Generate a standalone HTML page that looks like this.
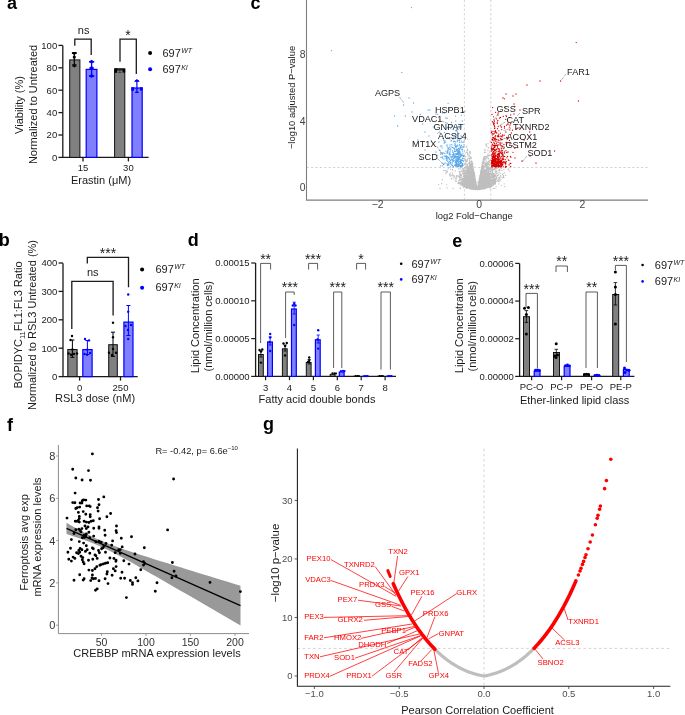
<!DOCTYPE html>
<html><head><meta charset="utf-8"><style>
html,body{margin:0;padding:0;background:#fff;overflow:hidden}
svg{display:block;will-change:transform}
text{font-family:"Liberation Sans", sans-serif}
</style></head><body>
<svg width="685" height="715" viewBox="0 0 685 715">
<text x="7" y="8.8" font-size="18" text-anchor="start" fill="#000" font-weight="bold">a</text>
<text x="-1.2" y="246" font-size="18" text-anchor="start" fill="#000" font-weight="bold">b</text>
<text x="250.6" y="9" font-size="18" text-anchor="start" fill="#000" font-weight="bold">c</text>
<text x="187.8" y="246.3" font-size="18" text-anchor="start" fill="#000" font-weight="bold">d</text>
<text x="452.2" y="246.7" font-size="18" text-anchor="start" fill="#000" font-weight="bold">e</text>
<text x="7" y="431" font-size="18" text-anchor="start" fill="#000" font-weight="bold">f</text>
<text x="263.1" y="430" font-size="18" text-anchor="start" fill="#000" font-weight="bold">g</text>
<path d="M62.8,45.4V157.4H148.6" stroke="#1a1a1a" stroke-width="1.3" fill="none" />
<line x1="58.4" y1="157.4" x2="62.8" y2="157.4" stroke="#1a1a1a" stroke-width="1.3" />
<text x="57.2" y="160.8" font-size="9.5" text-anchor="end" fill="#1a1a1a">0</text>
<line x1="58.4" y1="135" x2="62.8" y2="135" stroke="#1a1a1a" stroke-width="1.3" />
<text x="57.2" y="138.4" font-size="9.5" text-anchor="end" fill="#1a1a1a">20</text>
<line x1="58.4" y1="112.6" x2="62.8" y2="112.6" stroke="#1a1a1a" stroke-width="1.3" />
<text x="57.2" y="116" font-size="9.5" text-anchor="end" fill="#1a1a1a">40</text>
<line x1="58.4" y1="90.2" x2="62.8" y2="90.2" stroke="#1a1a1a" stroke-width="1.3" />
<text x="57.2" y="93.6" font-size="9.5" text-anchor="end" fill="#1a1a1a">60</text>
<line x1="58.4" y1="67.8" x2="62.8" y2="67.8" stroke="#1a1a1a" stroke-width="1.3" />
<text x="57.2" y="71.2" font-size="9.5" text-anchor="end" fill="#1a1a1a">80</text>
<line x1="58.4" y1="45.4" x2="62.8" y2="45.4" stroke="#1a1a1a" stroke-width="1.3" />
<text x="57.2" y="48.8" font-size="9.5" text-anchor="end" fill="#1a1a1a">100</text>
<line x1="83" y1="157.4" x2="83" y2="161.4" stroke="#1a1a1a" stroke-width="1.3" />
<text x="83" y="171.3" font-size="9.5" text-anchor="middle" fill="#1a1a1a">15</text>
<line x1="128.4" y1="157.4" x2="128.4" y2="161.4" stroke="#1a1a1a" stroke-width="1.3" />
<text x="128.4" y="171.3" font-size="9.5" text-anchor="middle" fill="#1a1a1a">30</text>
<text x="101" y="183.6" font-size="11" text-anchor="middle" fill="#1a1a1a">Erastin (μM)</text>
<text x="22.7" y="105" font-size="11" text-anchor="middle" fill="#1a1a1a" transform="rotate(-90 22.7 105)">Viability (%)</text>
<text x="37.4" y="104.5" font-size="11" text-anchor="middle" fill="#1a1a1a" transform="rotate(-90 37.4 104.5)">Normalized to Untreated</text>
<rect x="69.7" y="59.9" width="10.2" height="97.5" fill="#808080" stroke="#111" stroke-width="1"/>
<rect x="86.2" y="69.4" width="10.7" height="88" fill="#8080ff" stroke="#0000ff" stroke-width="1.2"/>
<rect x="114.6" y="69.9" width="10.2" height="87.5" fill="#808080" stroke="#111" stroke-width="1"/>
<rect x="132" y="88" width="10.2" height="69.4" fill="#8080ff" stroke="#0000ff" stroke-width="1.2"/>
<path d="M74.3,53.5V66M71.9,53.5H76.7M71.9,66H76.7" stroke="#000" stroke-width="1.2" fill="none" />
<path d="M71.6,52H77.1L74.35,55.6Z" fill="#000"/>
<circle cx="74.3" cy="57.1" r="1.6" fill="#000"/>
<path d="M71.9,64.2H76.8L74.35,67.7Z" fill="#000"/>
<path d="M91.6,61.8V76M89,61.8H94.2M89,76H94.2" stroke="#0000ff" stroke-width="1.3" fill="none" />
<path d="M91.6,59.8L94.4,61.8L91.6,63.8L88.8,61.8Z" fill="#0000ff"/>
<path d="M91.6,65.9L94.4,67.9L91.6,69.9L88.8,67.9Z" fill="#0000ff"/>
<path d="M91.6,74L94.4,76L91.6,78L88.8,76Z" fill="#0000ff"/>
<rect x="114.4" y="68.2" width="2.8" height="4.6" fill="#000" stroke="none" stroke-width="0"/>
<rect x="122.6" y="69" width="2.6" height="3.6" fill="#000" stroke="none" stroke-width="0"/>
<rect x="114.4" y="68.2" width="10.8" height="1.6" fill="#111" stroke="none" stroke-width="0"/>
<path d="M119.8,70.2V72.6M118.2,70.2H121.4M118.2,72.6H121.4" stroke="#333" stroke-width="0.8" fill="none" />
<path d="M136.9,80.6V92.3M135.1,80.6H138.7M135.1,92.3H138.7" stroke="#0000ff" stroke-width="1.2" fill="none" />
<path d="M133.9,81.8H139.9L136.9,78.9Z" fill="#0000ff"/>
<rect x="131.3" y="87.2" width="2.7" height="3.6" fill="#0000ff" stroke="none" stroke-width="0"/>
<rect x="140" y="87.2" width="2.6" height="3.4" fill="#0000ff" stroke="none" stroke-width="0"/>
<path d="M74.8,45.8V39.2H91.2V55" stroke="#1a1a1a" stroke-width="1.3" fill="none" />
<text x="83.6" y="34" font-size="11" text-anchor="middle" fill="#1a1a1a">ns</text>
<path d="M120,61.8V39.2H136.3V73.9" stroke="#1a1a1a" stroke-width="1.3" fill="none" />
<text x="128" y="39.7" font-size="14" text-anchor="middle" fill="#1a1a1a">*</text>
<circle cx="150.1" cy="53.1" r="2" fill="#000"/>
<circle cx="150.1" cy="69.3" r="2" fill="#0000ff"/>
<text x="162.5" y="57.1" font-size="11" text-anchor="start" fill="#1a1a1a">697</text>
<text x="181.2" y="53.4" font-size="7" text-anchor="start" fill="#1a1a1a" font-style="italic">WT</text>
<text x="162.5" y="73.3" font-size="11" text-anchor="start" fill="#1a1a1a">697</text>
<text x="181.2" y="69.6" font-size="7" text-anchor="start" fill="#1a1a1a" font-style="italic">KI</text>
<path d="M63,263.2V376.6H137.7" stroke="#1a1a1a" stroke-width="1.3" fill="none" />
<line x1="58.6" y1="376.6" x2="63" y2="376.6" stroke="#1a1a1a" stroke-width="1.3" />
<text x="57.4" y="380" font-size="9.5" text-anchor="end" fill="#1a1a1a">0</text>
<line x1="58.6" y1="348.2" x2="63" y2="348.2" stroke="#1a1a1a" stroke-width="1.3" />
<text x="57.4" y="351.6" font-size="9.5" text-anchor="end" fill="#1a1a1a">100</text>
<line x1="58.6" y1="319.8" x2="63" y2="319.8" stroke="#1a1a1a" stroke-width="1.3" />
<text x="57.4" y="323.2" font-size="9.5" text-anchor="end" fill="#1a1a1a">200</text>
<line x1="58.6" y1="291.4" x2="63" y2="291.4" stroke="#1a1a1a" stroke-width="1.3" />
<text x="57.4" y="294.8" font-size="9.5" text-anchor="end" fill="#1a1a1a">300</text>
<line x1="58.6" y1="263" x2="63" y2="263" stroke="#1a1a1a" stroke-width="1.3" />
<text x="57.4" y="266.4" font-size="9.5" text-anchor="end" fill="#1a1a1a">400</text>
<line x1="79.6" y1="376.6" x2="79.6" y2="380.6" stroke="#1a1a1a" stroke-width="1.3" />
<text x="79.6" y="390.8" font-size="9.5" text-anchor="middle" fill="#1a1a1a">0</text>
<line x1="120.5" y1="376.6" x2="120.5" y2="380.6" stroke="#1a1a1a" stroke-width="1.3" />
<text x="120.5" y="390.8" font-size="9.5" text-anchor="middle" fill="#1a1a1a">250</text>
<text x="95" y="402" font-size="11" text-anchor="middle" fill="#1a1a1a">RSL3 dose (nM)</text>
<text x="21.5" y="325" font-size="11" text-anchor="middle" fill="#1a1a1a" transform="rotate(-90 21.5 325)">BOPIDYC<tspan font-size="7.5" dy="3">11</tspan><tspan dy="-3">FL1:FL3 Ratio</tspan></text>
<text x="35.6" y="325" font-size="11" text-anchor="middle" fill="#1a1a1a" transform="rotate(-90 35.6 325)">Normalized to RSL3 Untreated (%)</text>
<rect x="67.8" y="349.5" width="9.3" height="27.1" fill="#808080" stroke="#111" stroke-width="1"/>
<rect x="82.8" y="349.6" width="9.3" height="27" fill="#8080ff" stroke="#0000ff" stroke-width="1.2"/>
<rect x="108.7" y="344.7" width="8.6" height="31.9" fill="#808080" stroke="#111" stroke-width="1"/>
<rect x="123.9" y="322.1" width="9.1" height="54.5" fill="#8080ff" stroke="#0000ff" stroke-width="1.2"/>
<path d="M72.4,340V357.3M70.4,340H74.4M70.4,357.3H74.4" stroke="#000" stroke-width="1" fill="none" />
<path d="M87.4,340.5V354.5M85.4,340.5H89.4M85.4,354.5H89.4" stroke="#0000ff" stroke-width="1" fill="none" />
<path d="M113,332.2V356.4M111,332.2H115M111,356.4H115" stroke="#000" stroke-width="1" fill="none" />
<path d="M128.4,305.5V335.5M126.4,305.5H130.4M126.4,335.5H130.4" stroke="#0000ff" stroke-width="1" fill="none" />
<circle cx="72" cy="336" r="1.2" fill="#000"/>
<circle cx="70.5" cy="340" r="1.2" fill="#000"/>
<circle cx="68.5" cy="353.5" r="1.2" fill="#000"/>
<circle cx="71" cy="354.8" r="1.2" fill="#000"/>
<circle cx="74" cy="354" r="1.2" fill="#000"/>
<circle cx="77" cy="353.5" r="1.2" fill="#000"/>
<circle cx="72.4" cy="349.5" r="1.2" fill="#000"/>
<circle cx="85" cy="339" r="1.2" fill="#0000ff"/>
<circle cx="89" cy="340.4" r="1.2" fill="#0000ff"/>
<circle cx="87.3" cy="349.6" r="1.2" fill="#0000ff"/>
<circle cx="84.5" cy="354" r="1.2" fill="#0000ff"/>
<circle cx="87" cy="354.8" r="1.2" fill="#0000ff"/>
<circle cx="90" cy="353" r="1.2" fill="#0000ff"/>
<circle cx="113" cy="322.7" r="1.2" fill="#000"/>
<circle cx="113" cy="337.3" r="1.2" fill="#000"/>
<circle cx="109" cy="352.7" r="1.2" fill="#000"/>
<circle cx="112" cy="355" r="1.2" fill="#000"/>
<circle cx="116" cy="352.7" r="1.2" fill="#000"/>
<circle cx="113" cy="349" r="1.2" fill="#000"/>
<circle cx="128.2" cy="294.5" r="1.2" fill="#0000ff"/>
<circle cx="128.2" cy="311.8" r="1.2" fill="#0000ff"/>
<circle cx="125.5" cy="326" r="1.2" fill="#0000ff"/>
<circle cx="131" cy="325" r="1.2" fill="#0000ff"/>
<circle cx="128" cy="330" r="1.2" fill="#0000ff"/>
<circle cx="128.2" cy="339" r="1.2" fill="#0000ff"/>
<path d="M87.3,263.6V257.3H128.5V287.3" stroke="#1a1a1a" stroke-width="1.3" fill="none" />
<text x="108" y="258.3" font-size="14" text-anchor="middle" fill="#1a1a1a">***</text>
<path d="M71.8,329V281.3H113.1V315.5" stroke="#1a1a1a" stroke-width="1.3" fill="none" />
<text x="92.7" y="276.1" font-size="11" text-anchor="middle" fill="#1a1a1a">ns</text>
<circle cx="142.1" cy="269.4" r="2" fill="#000"/>
<circle cx="142.1" cy="287.8" r="2" fill="#0000ff"/>
<text x="155.5" y="272.9" font-size="11" text-anchor="start" fill="#1a1a1a">697</text>
<text x="174.2" y="269.2" font-size="7" text-anchor="start" fill="#1a1a1a" font-style="italic">WT</text>
<text x="155.5" y="291.3" font-size="11" text-anchor="start" fill="#1a1a1a">697</text>
<text x="174.2" y="287.6" font-size="7" text-anchor="start" fill="#1a1a1a" font-style="italic">KI</text>
<path d="M464.4,0V199.5M490.8,0V199.5M306.6,167.5H648" stroke="#c8c8c8" stroke-width="0.8" stroke-dasharray="2.2,2.2" fill="none"/>
<path d="M473.0 180.5h0M476.2 188.1h0M469.6 180.9h0M471.6 178.9h0M474.7 188.7h0M460.3 174.4h0M466.2 186.2h0M474.8 188.6h0M464.4 183.6h0M450.2 173.2h0M472.7 175.8h0M460.0 176.2h0M472.9 179.2h0M467.3 184.7h0M471.4 168.8h0M458.5 181.8h0M463.3 181.8h0M469.3 180.2h0M476.5 189.0h0M474.5 175.6h0M472.8 189.4h0M470.2 174.8h0M474.1 171.7h0M475.7 188.0h0M471.3 187.4h0M474.8 183.7h0M468.9 181.8h0M476.2 184.7h0M463.9 169.2h0M466.1 184.1h0M471.2 180.3h0M473.9 174.7h0M458.8 168.9h0M474.8 188.8h0M467.5 181.5h0M465.7 156.5h0M473.1 169.1h0M475.0 185.8h0M469.9 179.4h0M469.5 179.8h0M474.4 183.4h0M474.8 180.6h0M469.7 187.1h0M471.3 184.2h0M467.4 184.9h0M469.5 182.4h0M474.5 188.0h0M474.5 182.0h0M471.0 188.8h0M475.8 184.8h0M465.0 177.7h0M465.7 178.2h0M475.3 187.6h0M472.4 187.7h0M476.0 185.9h0M470.6 182.7h0M475.7 184.7h0M472.7 179.7h0M473.8 185.1h0M473.5 187.6h0M464.1 184.9h0M475.1 182.1h0M470.8 178.1h0M467.6 173.1h0M474.1 188.4h0M473.6 185.0h0M464.8 176.4h0M474.3 187.8h0M468.6 187.8h0M468.9 156.1h0M466.0 180.2h0M473.4 182.9h0M475.7 183.5h0M470.4 186.2h0M470.8 172.3h0M472.1 187.6h0M473.7 184.5h0M473.7 179.6h0M467.5 180.5h0M468.9 181.3h0M471.6 188.0h0M466.8 187.5h0M469.9 186.1h0M466.7 176.7h0M464.4 175.5h0M469.9 183.9h0M473.8 187.0h0M468.4 187.9h0M473.2 187.0h0M471.9 183.3h0M465.4 186.4h0M469.0 181.8h0M472.9 179.1h0M469.2 169.8h0M470.1 181.1h0M465.7 180.6h0M474.4 189.2h0M469.7 165.7h0M468.9 187.7h0M476.3 187.0h0M471.4 188.0h0M475.3 189.4h0M473.4 176.9h0M470.8 167.7h0M474.4 178.9h0M469.4 185.3h0M473.4 181.1h0M472.2 178.1h0M473.3 186.7h0M470.0 187.6h0M472.9 180.9h0M474.8 185.4h0M473.5 188.7h0M472.9 184.0h0M473.9 185.1h0M471.9 187.4h0M473.6 189.0h0M467.3 164.2h0M476.0 188.0h0M465.2 179.5h0M470.2 167.0h0M466.0 176.9h0M474.7 187.8h0M469.3 185.0h0M472.0 182.8h0M466.6 180.2h0M472.7 175.4h0M472.6 185.9h0M472.2 182.5h0M471.2 184.2h0M474.1 175.3h0M471.6 174.5h0M469.8 183.4h0M463.9 184.7h0M473.3 187.9h0M471.3 183.6h0M474.6 180.9h0M476.4 188.6h0M475.6 185.9h0M472.5 175.3h0M472.7 186.7h0M471.9 177.7h0M475.4 181.7h0M460.9 180.0h0M469.1 180.1h0M475.0 186.9h0M473.5 186.9h0M469.2 180.3h0M468.3 169.6h0M466.9 184.3h0M471.2 176.1h0M471.5 188.1h0M469.6 151.7h0M468.8 168.9h0M472.9 172.6h0M470.5 165.4h0M472.1 188.8h0M467.4 184.6h0M468.3 173.4h0M471.7 184.0h0M474.3 188.1h0M471.8 183.4h0M470.3 177.0h0M475.8 185.9h0M468.0 184.7h0M467.3 182.4h0M472.6 183.7h0M460.9 171.6h0M474.9 176.7h0M474.1 180.3h0M468.8 179.6h0M473.4 188.0h0M472.3 177.6h0M466.9 186.4h0M449.8 174.2h0M470.5 182.1h0M469.7 184.2h0M466.4 180.5h0M459.8 180.0h0M473.6 175.7h0M473.5 183.6h0M467.6 177.4h0M464.1 183.4h0M467.0 185.9h0M469.0 183.1h0M470.7 179.5h0M473.0 172.2h0M473.4 187.3h0M472.8 179.4h0M466.2 166.8h0M470.7 177.1h0M466.5 185.7h0M465.2 177.8h0M451.9 175.2h0M470.2 184.9h0M472.8 177.8h0M473.5 181.0h0M474.8 186.4h0M466.9 175.3h0M471.8 177.0h0M474.0 177.3h0M473.5 184.0h0M473.1 184.4h0M470.2 188.4h0M474.4 188.7h0M468.2 183.7h0M473.6 175.2h0M470.3 185.8h0M474.1 186.1h0M464.9 173.2h0M470.9 184.6h0M469.2 176.7h0M470.2 180.8h0M473.6 188.5h0M474.4 188.6h0M467.0 186.3h0M465.3 174.2h0M468.9 187.2h0M475.4 185.6h0M467.6 185.8h0M467.8 179.5h0M475.6 182.3h0M473.3 184.2h0M466.4 185.7h0M467.2 187.1h0M468.8 187.5h0M473.5 185.7h0M470.8 184.7h0M471.3 169.3h0M468.2 181.8h0M476.3 186.9h0M469.8 180.2h0M466.8 183.5h0M467.7 175.8h0M457.6 176.0h0M474.8 183.5h0M475.1 186.3h0M470.6 187.1h0M476.3 184.1h0M474.1 182.6h0M473.8 186.0h0M470.4 167.6h0M475.7 183.6h0M469.7 174.6h0M466.8 184.1h0M472.5 186.3h0M466.5 186.2h0M473.4 184.0h0M471.6 188.4h0M471.8 187.7h0M469.3 180.0h0M473.6 172.3h0M476.6 186.1h0M470.2 177.5h0M474.0 176.5h0M474.1 172.8h0M473.2 174.4h0M472.8 179.5h0M474.7 182.3h0M470.2 184.8h0M465.2 183.3h0M473.0 181.0h0M470.5 173.2h0M472.7 173.5h0M467.3 181.5h0M472.3 176.5h0M471.8 170.6h0M471.0 189.1h0M469.3 187.5h0M470.6 185.0h0M465.6 180.5h0M472.4 183.9h0M468.2 181.6h0M468.5 185.0h0M468.9 182.6h0M475.2 186.4h0M464.8 179.4h0M467.5 167.0h0M467.8 179.8h0M476.5 187.7h0M468.3 173.0h0M467.9 175.9h0M475.6 188.9h0M464.5 173.1h0M475.7 188.5h0M474.3 189.1h0M473.0 187.5h0M472.9 175.0h0M471.2 186.4h0M473.5 169.2h0M471.2 176.5h0M473.1 171.1h0M471.0 184.6h0M471.6 189.0h0M461.8 177.6h0M471.7 183.2h0M470.4 184.5h0M475.3 185.7h0M472.7 187.2h0M475.3 189.0h0M473.9 187.9h0M470.6 176.9h0M472.8 170.8h0M473.2 181.6h0M472.3 184.2h0M470.0 165.1h0M473.0 186.8h0M474.5 185.8h0M472.8 182.0h0M470.1 153.1h0M471.7 187.0h0M475.8 185.0h0M467.9 184.6h0M468.7 187.4h0M465.7 179.7h0M474.5 183.7h0M471.7 178.2h0M471.3 185.6h0M456.7 178.1h0M470.7 178.5h0M475.1 183.9h0M474.7 187.3h0M471.2 181.9h0M474.2 174.1h0M468.2 187.0h0M474.5 180.0h0M469.2 164.1h0M472.7 174.1h0M472.6 179.5h0M468.5 185.8h0M469.6 162.1h0M470.7 179.3h0M474.5 183.5h0M474.1 185.0h0M473.1 188.8h0M474.7 181.2h0M469.6 187.7h0M474.2 183.7h0M476.1 186.5h0M465.8 186.1h0M475.8 185.8h0M475.0 185.1h0M472.7 184.1h0M467.0 182.4h0M469.3 180.5h0M474.2 178.9h0M474.4 182.2h0M465.9 181.6h0M470.9 186.7h0M476.4 188.9h0M471.9 182.9h0M474.5 181.6h0M467.3 185.4h0M475.2 182.7h0M467.7 180.8h0M468.3 185.2h0M469.3 187.7h0M475.1 182.2h0M471.0 169.8h0M464.6 177.6h0M471.4 186.9h0M466.8 186.4h0M472.8 179.3h0M469.8 187.4h0M474.8 183.4h0M474.0 188.4h0M475.0 185.2h0M474.7 182.7h0M472.7 188.7h0M466.9 181.1h0M475.6 185.3h0M475.8 187.0h0M469.0 182.1h0M474.2 182.4h0M472.4 165.9h0M469.6 188.0h0M471.3 170.2h0M471.5 186.7h0M473.5 187.9h0M468.3 187.5h0M470.5 186.2h0M475.0 188.1h0M474.2 187.7h0M472.1 185.2h0M473.8 186.3h0M471.8 187.6h0M469.9 185.4h0M470.1 181.7h0M463.0 185.2h0M472.7 186.2h0M468.6 167.0h0M469.7 172.4h0M464.7 178.7h0M463.7 173.1h0M474.6 182.3h0M475.1 184.3h0M463.1 173.0h0M472.2 183.6h0M469.9 181.5h0M473.0 187.1h0M470.4 188.7h0M472.8 175.2h0M467.2 183.6h0M470.6 168.7h0M473.5 171.8h0M472.7 180.8h0M466.4 181.3h0M466.6 184.3h0M475.2 185.5h0M471.4 185.4h0M473.9 177.9h0M467.9 153.5h0M461.5 182.0h0M461.7 184.9h0M469.2 187.2h0M471.3 173.6h0M471.5 186.4h0M474.5 188.9h0M473.2 172.8h0M474.5 180.9h0M473.5 187.6h0M474.4 186.7h0M468.8 182.1h0M474.5 179.1h0M466.7 186.3h0M475.3 179.7h0M473.7 188.7h0M472.9 181.5h0M468.4 184.9h0M474.4 189.1h0M465.2 175.5h0M473.6 180.8h0M474.5 185.5h0M471.7 171.8h0M471.4 167.4h0M475.8 188.0h0M473.2 187.8h0M476.4 188.9h0M475.1 186.6h0M474.0 180.1h0M474.5 174.0h0M471.3 187.2h0M464.0 179.2h0M473.1 186.2h0M469.9 185.6h0M471.6 169.3h0M475.1 183.9h0M471.1 182.8h0M472.9 181.7h0M473.6 187.7h0M469.5 166.6h0M473.4 170.4h0M471.2 180.2h0M473.2 184.6h0M459.2 180.4h0M467.8 185.3h0M473.8 184.1h0M464.4 183.6h0M476.4 186.0h0M473.9 171.6h0M471.6 176.7h0M470.4 188.1h0M466.4 160.8h0M471.8 171.0h0M474.5 175.8h0M467.7 139.2h0M470.5 179.2h0M473.5 187.7h0M475.3 183.0h0M476.4 187.6h0M462.4 183.0h0M467.5 154.8h0M463.8 179.7h0M467.1 176.2h0M475.6 187.8h0M469.4 167.4h0M475.0 187.9h0M469.7 184.4h0M473.4 180.7h0M473.4 186.3h0M475.9 182.3h0M475.9 186.7h0M470.5 188.9h0M472.1 180.2h0M474.4 182.9h0M473.9 185.1h0M475.0 184.0h0M471.1 169.7h0M469.8 186.7h0M471.7 186.2h0M475.4 182.8h0M474.9 184.3h0M473.8 178.1h0M472.5 183.8h0M475.8 186.5h0M469.4 187.1h0M475.7 188.9h0M469.0 185.6h0M476.6 189.2h0M472.5 186.1h0M465.2 139.4h0M473.3 178.7h0M474.3 178.2h0M466.0 159.9h0M476.0 183.7h0M467.4 184.6h0M460.5 180.0h0M467.4 170.8h0M472.3 188.6h0M474.2 179.6h0M471.4 185.3h0M472.1 185.7h0M467.6 171.2h0M474.5 174.5h0M471.1 179.8h0M472.6 180.1h0M474.2 183.2h0M470.8 174.8h0M470.0 186.8h0M475.6 189.1h0M469.5 188.2h0M464.9 179.3h0M470.4 182.8h0M469.0 177.7h0M473.7 181.4h0M465.2 177.1h0M469.1 170.9h0M476.1 187.8h0M462.4 173.5h0M465.1 175.3h0M475.6 187.6h0M472.7 176.4h0M472.5 186.3h0M471.8 187.0h0M466.6 177.3h0M468.7 177.7h0M468.1 170.9h0M475.1 187.1h0M470.2 166.1h0M469.2 180.3h0M471.2 184.0h0M466.2 183.7h0M467.7 186.4h0M472.2 185.5h0M475.4 187.1h0M475.0 189.2h0M474.9 178.7h0M476.0 185.3h0M472.5 187.9h0M473.6 179.8h0M472.9 177.9h0M475.4 188.2h0M474.2 187.8h0M473.1 187.4h0M470.5 178.0h0M470.9 179.6h0M472.7 173.4h0M467.0 184.3h0M467.6 173.5h0M475.4 188.1h0M473.8 186.9h0M475.1 187.4h0M476.8 188.9h0M473.8 188.9h0M475.4 184.7h0M464.3 184.6h0M463.5 184.9h0M473.8 175.1h0M468.3 179.7h0M470.6 177.7h0M474.3 181.5h0M473.6 185.9h0M473.5 171.2h0M473.9 186.7h0M471.0 183.9h0M474.3 187.6h0M468.6 184.7h0M469.5 185.9h0M472.8 187.6h0M457.8 183.1h0M472.7 188.6h0M469.9 175.0h0M473.2 175.6h0M470.2 180.5h0M470.5 171.3h0M470.8 188.0h0M469.9 187.9h0M468.4 188.0h0M470.6 183.9h0M472.1 179.9h0M475.1 187.9h0M469.9 165.2h0M472.5 174.7h0M460.6 175.6h0M460.6 185.1h0M469.9 180.3h0M471.8 185.7h0M476.1 188.0h0M472.8 181.7h0M466.6 168.3h0M469.8 188.4h0M474.6 183.2h0M466.1 161.3h0M471.0 175.0h0M476.2 183.6h0M471.1 185.3h0M470.5 178.3h0M471.8 188.5h0M472.3 187.3h0M473.7 183.8h0M473.7 178.2h0M464.4 181.6h0M467.7 179.1h0M469.0 167.1h0M470.4 181.0h0M469.7 181.0h0M476.1 189.1h0M467.0 182.1h0M461.7 183.6h0M465.3 178.7h0M474.8 180.8h0M472.4 186.1h0M472.9 184.4h0M470.8 187.7h0M468.7 183.0h0M468.9 183.0h0M474.2 181.6h0M470.8 187.8h0M473.8 177.9h0M471.6 177.9h0M473.4 188.3h0M467.5 177.0h0M473.4 189.0h0M471.1 188.5h0M471.4 186.8h0M473.4 179.1h0M467.3 187.2h0M468.2 184.4h0M469.3 182.9h0M474.4 179.2h0M472.1 185.3h0M474.2 188.3h0M469.7 187.4h0M467.4 186.6h0M471.1 185.3h0M474.9 188.6h0M469.4 171.6h0M471.0 174.9h0M474.0 184.7h0M474.2 181.0h0M472.0 182.2h0M474.5 183.0h0M473.3 182.7h0M473.4 189.5h0M473.1 178.3h0M465.9 182.7h0M463.6 183.4h0M471.5 176.6h0M472.1 188.5h0M469.8 186.7h0M474.4 183.0h0M466.8 183.3h0M469.4 185.0h0M470.7 187.5h0M470.9 186.3h0M473.0 188.1h0M452.3 174.6h0M474.3 180.1h0M470.3 184.7h0M474.9 177.2h0M472.4 177.0h0M469.0 182.5h0M471.9 177.7h0M471.0 186.6h0M472.4 164.4h0M473.1 183.8h0M477.0 188.0h0M475.7 183.4h0M462.4 178.3h0M465.8 171.9h0M474.0 183.5h0M472.6 180.7h0M470.7 173.6h0M470.0 179.7h0M464.1 179.6h0M470.0 185.9h0M468.6 184.6h0M467.4 178.2h0M473.2 188.0h0M471.7 182.5h0M474.9 189.0h0M474.4 181.5h0M473.4 180.8h0M463.6 184.5h0M469.2 182.4h0M471.0 175.6h0M469.7 152.6h0M473.1 177.7h0M472.8 188.7h0M469.9 186.0h0M471.0 174.8h0M474.7 180.4h0M473.7 185.6h0M473.9 173.2h0M470.1 187.5h0M472.6 182.1h0M474.4 180.5h0M465.9 177.7h0M446.1 173.5h0M474.9 185.4h0M473.9 179.0h0M474.1 174.1h0M476.1 184.4h0M470.9 183.6h0M445.2 170.4h0M468.7 185.6h0M476.0 187.8h0M467.1 183.3h0M475.6 182.0h0M473.2 187.3h0M471.9 188.0h0M469.4 182.2h0M470.7 188.3h0M475.1 182.0h0M477.0 189.4h0M474.6 188.8h0M473.3 186.6h0M469.1 185.5h0M471.3 174.6h0M475.0 187.3h0M461.4 179.3h0M470.0 187.0h0M471.2 165.8h0M470.1 186.2h0M468.1 186.4h0M473.5 169.0h0M471.9 187.0h0M472.2 188.7h0M459.5 183.2h0M473.0 184.8h0M472.5 179.9h0M476.0 185.3h0M471.8 182.3h0M465.5 166.1h0M473.3 188.5h0M458.9 168.7h0M463.1 181.0h0M473.7 183.3h0M468.9 171.2h0M470.0 187.5h0M472.6 187.8h0M474.8 188.4h0M474.0 187.5h0M473.3 188.9h0M473.9 181.2h0M473.7 177.3h0M446.0 172.3h0M467.5 183.2h0M471.7 188.4h0M468.6 181.5h0M471.5 176.0h0M467.8 178.2h0M474.7 179.8h0M471.5 186.9h0M475.6 186.9h0M474.8 186.6h0M474.8 187.1h0M473.3 175.4h0M466.1 187.2h0M468.5 182.7h0M471.6 184.4h0M474.1 186.3h0M468.8 187.1h0M469.5 183.0h0M468.0 183.0h0M467.0 187.5h0M472.0 183.9h0M466.1 181.3h0M473.0 186.4h0M469.7 179.1h0M475.4 182.6h0M468.4 185.4h0M473.6 174.4h0M474.8 184.2h0M474.1 189.0h0M468.1 173.6h0M468.6 181.7h0M466.9 186.8h0M465.6 175.6h0M468.4 187.1h0M474.8 187.6h0M474.9 184.4h0M471.5 179.8h0M472.4 181.3h0M469.3 181.0h0M474.4 183.1h0M472.8 175.8h0M472.2 185.9h0M465.9 185.4h0M451.6 178.9h0M464.2 186.8h0M469.7 188.3h0M474.4 185.8h0M474.1 182.9h0M475.6 183.3h0M470.4 167.0h0M473.0 186.1h0M465.0 185.3h0M469.4 158.5h0M474.9 183.4h0M474.6 176.0h0M469.5 173.7h0M471.3 183.7h0M469.3 187.8h0M475.5 186.1h0M475.6 184.1h0M471.7 163.5h0M472.7 185.1h0M475.7 182.7h0M471.3 180.3h0M470.0 153.7h0M466.4 184.2h0M470.8 174.7h0M474.4 173.2h0M469.7 165.1h0M470.4 186.9h0M472.2 172.6h0M472.4 181.3h0M462.2 185.1h0M467.8 187.2h0M476.5 186.0h0M472.3 185.7h0M472.8 181.7h0M475.7 186.7h0M474.3 180.8h0M473.8 187.9h0M474.4 185.2h0M474.2 184.1h0M470.2 179.5h0M475.9 182.8h0M473.0 179.5h0M473.7 180.1h0M470.3 188.7h0M466.4 181.6h0M473.1 184.1h0M465.3 171.0h0M464.6 182.1h0M465.9 187.4h0M475.7 187.6h0M475.7 188.7h0M473.6 177.8h0M472.4 164.3h0M461.0 183.5h0M459.8 177.1h0M474.6 186.5h0M475.7 180.6h0M471.3 188.5h0M474.5 184.9h0M472.3 175.6h0M472.4 183.1h0M473.7 174.3h0M469.5 178.3h0M469.3 185.4h0M475.3 188.9h0M473.3 183.7h0M472.4 175.9h0M470.0 168.8h0M459.9 178.8h0M468.3 175.1h0M472.3 184.9h0M473.6 176.5h0M473.1 184.3h0M474.0 175.8h0M468.7 183.0h0M465.8 186.7h0M469.7 188.0h0M472.0 161.3h0M472.6 188.4h0M470.6 186.6h0M475.3 183.6h0M469.9 180.8h0M472.9 184.3h0M471.3 184.1h0M470.7 181.1h0M471.1 170.4h0M474.4 185.5h0M470.5 188.1h0M470.4 172.5h0M465.2 182.5h0M471.3 182.6h0M468.2 185.1h0M475.1 184.4h0M469.8 156.5h0M466.8 183.4h0M475.6 187.3h0M474.5 188.7h0M474.2 186.4h0M474.9 183.8h0M467.8 187.2h0M459.6 173.1h0M473.7 183.3h0M471.5 184.2h0M466.1 177.8h0M470.2 170.9h0M471.1 178.2h0M469.1 183.3h0M473.9 188.1h0M472.8 184.3h0M470.5 188.5h0M470.8 180.9h0M473.0 180.6h0M470.8 186.0h0M468.3 178.2h0M475.6 185.4h0M471.1 182.5h0M471.5 175.7h0M470.7 176.2h0M466.7 178.7h0M470.5 185.8h0M470.7 176.3h0M471.8 185.6h0M466.3 173.5h0M473.8 175.4h0M468.0 178.2h0M467.2 180.5h0M469.4 187.0h0M469.6 174.1h0M469.2 180.2h0M447.3 171.1h0M474.1 188.4h0M471.6 185.9h0M470.4 176.3h0M468.1 158.0h0M474.2 180.2h0M475.7 187.9h0M470.7 172.9h0M471.1 171.3h0M472.6 182.9h0M474.8 187.6h0M474.7 184.0h0M474.7 189.2h0M470.6 188.1h0M474.4 186.5h0M472.5 187.2h0M474.5 188.0h0M473.2 185.8h0M469.7 184.8h0M467.3 181.7h0M472.9 178.9h0M469.9 188.7h0M476.9 187.4h0M475.0 183.1h0M476.0 186.3h0M467.9 177.7h0M472.8 169.3h0M473.2 181.6h0M468.8 184.8h0M468.0 172.5h0M465.2 160.3h0M470.9 183.6h0M474.5 187.2h0M471.7 188.1h0M469.4 177.9h0M472.4 187.5h0M474.5 183.8h0M467.8 173.5h0M471.0 183.4h0M471.8 185.0h0M467.7 168.0h0M475.8 185.0h0M461.0 183.8h0M468.3 183.3h0M474.4 185.9h0M472.4 186.0h0M474.8 183.8h0M467.7 150.3h0M465.5 173.6h0M469.7 182.1h0M468.5 184.7h0M472.6 186.9h0M474.1 183.7h0M474.7 186.3h0M470.8 181.8h0M472.3 172.0h0M463.0 184.8h0M470.7 178.3h0M467.6 184.5h0M470.5 173.4h0M476.3 188.4h0M471.1 186.7h0M473.2 181.8h0M468.8 185.3h0M474.6 179.6h0M470.2 171.7h0M456.4 176.8h0M472.2 168.6h0M467.6 166.8h0M464.5 180.9h0M471.6 183.0h0M470.7 172.9h0M469.2 171.3h0M469.9 180.8h0M475.5 189.2h0M468.8 187.8h0M473.7 181.1h0M472.9 167.5h0M468.4 175.6h0M463.2 181.1h0M453.9 179.1h0M472.2 188.2h0M466.6 184.6h0M473.8 187.8h0M466.2 179.0h0M472.6 177.2h0M463.8 179.6h0M465.9 184.2h0M454.0 175.8h0M459.1 182.9h0M472.0 179.3h0M472.7 179.4h0M464.7 151.1h0M472.6 187.8h0M473.1 186.5h0M475.6 182.3h0M474.7 183.1h0M473.2 184.5h0M472.7 184.1h0M476.4 185.9h0M466.8 186.8h0M474.4 179.7h0M472.8 172.7h0M472.9 189.1h0M470.6 183.8h0M464.1 183.1h0M465.8 184.8h0M470.0 187.1h0M471.8 188.5h0M476.3 186.8h0M471.8 179.4h0M466.6 168.1h0M472.3 184.3h0M472.9 188.4h0M472.9 182.9h0M470.0 182.3h0M474.6 182.4h0M473.4 175.0h0M467.6 186.8h0M471.5 169.9h0M472.5 186.2h0M462.7 180.3h0M472.5 186.1h0M469.2 163.2h0M476.7 186.8h0M472.1 178.9h0M472.5 188.4h0M460.6 177.6h0M475.1 186.1h0M474.7 178.7h0M470.3 188.2h0M465.5 187.2h0M460.9 169.1h0M467.5 185.8h0M470.2 158.8h0M473.4 177.2h0M464.8 182.6h0M469.5 184.4h0M467.4 164.4h0M472.5 165.3h0M465.9 178.4h0M473.9 187.1h0M475.3 187.3h0M471.6 167.4h0M471.0 184.2h0M474.6 184.6h0M467.9 187.7h0M475.0 188.7h0M469.6 185.3h0M471.4 187.2h0M475.7 185.7h0M466.0 181.1h0M472.0 172.7h0M466.4 176.6h0M471.6 170.7h0M466.9 187.9h0M471.4 175.7h0M472.6 185.5h0M472.1 180.2h0M475.7 186.3h0M472.9 182.2h0M473.0 185.7h0M474.1 184.5h0M472.3 187.4h0M476.1 188.7h0M472.4 170.0h0M475.9 183.9h0M474.9 184.1h0M466.9 183.9h0M475.8 187.3h0M472.8 183.4h0M472.8 189.2h0M468.0 180.9h0M472.9 188.6h0M473.7 182.3h0M471.4 181.4h0M475.0 188.3h0M475.6 186.0h0M472.4 177.1h0M469.1 183.5h0M467.8 184.9h0M475.7 183.5h0M473.4 183.9h0M475.2 187.7h0M466.0 180.6h0M473.1 175.0h0M473.3 170.2h0M470.1 188.2h0M470.6 184.5h0M472.4 179.4h0M467.5 187.6h0M475.2 184.6h0M474.9 189.0h0M459.1 171.5h0M470.8 180.9h0M472.5 187.4h0M475.6 179.8h0M473.5 186.2h0M471.0 179.5h0M473.0 184.7h0M473.5 179.1h0M466.3 185.7h0M474.8 185.9h0M472.2 179.4h0M475.0 181.2h0M469.4 188.4h0M473.6 182.3h0M474.1 185.8h0M465.2 152.9h0M467.2 185.8h0M476.9 189.1h0M471.1 186.6h0M468.5 186.6h0M473.9 180.5h0M473.7 175.2h0M466.5 176.5h0M471.5 187.4h0M473.7 186.4h0M467.4 186.2h0M471.5 167.4h0M464.1 178.6h0M472.0 180.3h0M472.8 186.0h0M475.7 183.0h0M466.2 172.7h0M462.2 181.5h0M470.5 188.2h0M468.4 185.9h0M468.7 178.9h0M471.4 180.6h0M467.3 177.2h0M459.7 174.7h0M463.8 174.3h0M465.5 162.1h0M469.9 176.0h0M470.0 187.8h0M472.1 184.0h0M472.1 168.2h0M472.9 184.1h0M471.0 175.4h0M473.6 187.7h0M475.9 182.6h0M470.7 186.6h0M475.7 183.8h0M473.7 183.5h0M465.3 184.8h0M475.7 183.0h0M472.0 173.7h0M467.0 150.9h0M464.8 181.4h0M467.8 177.5h0M473.0 186.4h0M470.5 176.4h0M468.1 188.0h0M475.1 189.3h0M472.4 182.9h0M466.4 187.4h0M472.0 180.6h0M475.0 179.0h0M474.9 183.9h0M467.6 184.9h0M472.3 167.6h0M475.0 181.5h0M472.7 170.0h0M475.5 189.2h0M473.4 185.9h0M467.2 180.1h0M469.5 188.0h0M476.7 188.2h0M472.7 185.2h0M466.7 183.4h0M470.7 177.2h0M469.7 185.1h0M476.4 187.1h0M473.6 171.4h0M472.7 185.6h0M443.6 170.6h0M468.0 186.2h0M469.3 186.3h0M475.3 189.5h0M472.0 171.6h0M472.7 169.9h0M447.4 171.9h0M472.1 168.0h0M466.8 186.1h0M467.5 187.2h0M466.5 187.2h0M466.8 186.5h0M475.2 179.2h0M466.8 180.1h0M472.2 182.9h0M469.7 170.6h0M474.9 183.6h0M468.0 173.0h0M476.5 186.2h0M474.4 176.4h0M473.7 183.0h0M474.6 187.9h0M474.2 178.8h0M470.6 184.9h0M475.5 188.8h0M466.5 185.9h0M462.7 186.1h0M473.7 174.5h0M463.0 170.7h0M473.4 186.6h0M473.2 184.2h0M474.3 183.5h0M469.0 182.8h0M475.5 183.9h0M473.4 186.9h0M473.6 189.5h0M473.9 185.6h0M473.9 185.9h0M474.5 184.8h0M469.1 182.9h0M471.8 179.6h0M477.0 189.5h0M470.4 188.5h0M467.3 185.4h0M474.1 187.3h0M452.6 170.1h0M473.0 184.0h0M471.2 186.0h0M474.3 187.5h0M473.5 184.5h0M474.8 181.4h0M471.4 182.3h0M472.7 184.1h0M470.1 186.1h0M473.2 178.3h0M469.9 165.7h0M474.3 173.3h0M467.1 164.3h0M473.2 188.5h0M470.2 173.9h0M471.4 186.0h0M475.0 188.7h0M470.8 188.5h0M475.0 186.8h0M473.2 186.1h0M470.7 185.5h0M472.9 187.7h0M471.1 187.6h0M473.3 186.1h0M472.3 182.1h0M470.8 184.7h0M475.1 188.7h0M474.5 184.1h0M472.9 188.6h0M475.5 182.5h0M456.4 175.7h0M472.9 180.9h0M473.0 187.1h0M470.1 184.6h0M472.3 187.6h0M473.7 185.3h0M470.9 177.4h0M474.0 186.3h0M468.0 183.9h0M473.2 184.3h0M470.3 152.0h0M472.6 178.8h0M470.7 184.4h0M461.3 175.9h0M474.3 185.9h0M472.7 177.1h0M472.5 187.9h0M471.6 186.2h0M467.2 187.2h0M474.2 188.1h0M474.9 176.4h0M463.6 184.9h0M474.3 186.4h0M472.7 166.9h0M472.1 172.2h0M476.6 188.2h0M467.5 182.1h0M465.7 183.8h0M469.8 174.7h0M472.2 180.2h0M460.3 167.8h0M474.2 178.8h0M450.6 169.2h0M461.3 182.2h0M473.2 186.7h0M471.1 161.8h0M472.8 178.5h0M473.5 187.7h0M466.5 187.4h0M466.0 168.2h0M472.0 166.2h0M464.7 180.6h0M469.1 181.8h0M470.2 162.4h0M467.4 168.9h0M472.0 177.3h0M471.0 184.1h0M466.9 179.3h0M471.5 177.3h0M476.2 189.1h0M466.6 173.5h0M473.6 183.5h0M470.6 174.2h0M463.3 173.6h0M469.8 178.1h0M474.9 188.1h0M475.2 187.0h0M471.3 188.9h0M473.5 181.8h0M473.4 182.5h0M472.0 176.3h0M475.5 181.5h0M476.2 187.2h0M462.9 180.7h0M476.2 187.1h0M475.7 186.5h0M464.2 181.4h0M465.2 175.4h0M465.3 170.1h0M465.9 178.7h0M469.9 184.9h0M466.2 187.5h0M473.3 179.0h0M468.1 186.0h0M470.6 171.6h0M469.6 179.1h0M472.4 182.1h0M474.3 185.0h0M466.5 175.5h0M468.9 179.6h0M468.5 180.9h0M475.9 187.3h0M471.5 176.9h0M469.0 173.7h0M471.0 176.8h0M474.1 188.4h0M475.0 182.0h0M472.0 182.5h0M468.8 183.5h0M467.1 175.0h0M467.1 183.9h0M471.5 175.4h0M471.4 186.0h0M476.3 185.9h0M465.2 183.2h0M469.3 187.6h0M468.8 183.1h0M473.1 187.5h0M475.0 187.8h0M476.6 187.9h0M471.9 180.3h0M470.8 185.5h0M475.8 186.8h0M468.0 187.7h0M475.4 180.8h0M475.9 189.1h0M470.1 183.9h0M466.1 179.3h0M464.2 185.8h0M467.0 187.2h0M475.2 188.9h0M473.0 188.4h0M468.6 184.2h0M467.6 187.8h0M462.0 181.5h0M474.7 188.1h0M473.7 180.1h0M461.8 177.8h0M472.1 184.8h0M470.1 187.6h0M463.0 171.7h0M473.8 185.6h0M470.9 183.0h0M469.4 188.4h0M470.3 185.4h0M471.5 186.8h0M471.0 183.4h0M473.1 183.1h0M472.6 177.0h0M472.5 188.5h0M473.4 185.8h0M470.4 186.5h0M475.3 187.2h0M466.4 172.0h0M463.3 185.3h0M475.4 180.9h0M471.3 185.6h0M476.1 183.7h0M472.0 185.3h0M472.7 187.8h0M473.5 187.9h0M472.7 173.8h0M469.3 182.9h0M467.8 182.0h0M472.0 168.2h0M467.2 180.7h0M471.3 181.7h0M467.1 180.0h0M476.9 187.1h0M464.3 177.6h0M470.0 161.8h0M474.3 176.2h0M475.0 182.9h0M469.6 181.0h0M459.2 183.4h0M472.6 184.7h0M475.2 186.7h0M468.4 186.6h0M470.8 176.9h0M473.7 179.4h0M465.4 183.1h0M466.6 172.0h0M470.9 177.6h0M465.1 184.7h0M473.1 177.5h0M464.4 179.9h0M465.1 185.0h0M466.2 186.2h0M475.4 188.7h0M475.4 183.3h0M469.8 184.9h0M475.6 189.1h0M473.0 188.7h0M473.9 186.7h0M472.7 181.5h0M470.2 176.2h0M469.4 160.6h0M471.3 187.6h0M470.4 177.6h0M474.0 187.9h0M464.7 179.4h0M471.6 178.8h0M460.7 174.3h0M474.7 183.8h0M474.7 186.8h0M473.9 177.4h0M468.0 179.9h0M472.5 188.2h0M466.2 180.6h0M471.5 187.8h0M467.5 169.2h0M476.2 185.2h0M471.7 175.1h0M471.3 185.6h0M466.0 170.4h0M472.1 171.3h0M474.1 181.2h0M474.2 177.5h0M468.5 184.9h0M465.4 184.5h0M472.5 181.0h0M472.1 163.7h0M470.0 184.6h0M462.2 180.0h0M459.1 180.6h0M471.5 170.5h0M475.2 184.4h0M464.3 173.2h0M471.8 168.0h0M463.7 170.8h0M471.1 169.3h0M470.0 168.8h0M473.2 185.6h0M470.6 176.2h0M475.5 186.4h0M468.4 169.0h0M467.7 176.5h0M471.4 186.7h0M472.6 181.6h0M472.4 184.2h0M476.0 186.6h0M470.8 183.3h0M467.2 171.5h0M472.2 184.9h0M467.5 184.0h0M467.2 161.8h0M475.1 185.6h0M468.1 186.1h0M473.5 184.1h0M470.1 172.4h0M470.5 188.7h0M472.9 188.2h0M446.4 170.8h0M466.2 176.5h0M475.9 184.0h0M470.8 179.8h0M467.9 185.9h0M474.0 179.0h0M471.7 173.9h0M475.0 184.2h0M465.8 170.1h0M475.3 183.2h0M469.4 178.1h0M469.6 186.3h0M466.8 186.6h0M470.6 187.0h0M472.4 179.9h0M471.0 178.2h0M469.2 180.8h0M474.6 187.5h0M464.4 184.3h0M475.8 182.3h0M472.7 170.4h0M465.3 183.0h0M472.8 186.2h0M470.4 184.8h0M476.0 186.6h0M466.7 183.6h0M467.1 184.6h0M476.3 187.1h0M472.6 179.4h0M472.9 187.8h0M469.7 184.0h0M464.7 172.2h0M472.3 180.5h0M474.8 182.2h0M467.6 187.3h0M474.3 188.0h0M474.8 182.0h0M469.7 159.0h0M459.5 183.7h0M473.0 183.3h0M475.3 188.2h0M467.3 185.8h0M460.6 179.9h0M476.4 186.5h0M475.0 185.0h0M470.6 180.2h0M473.2 171.8h0M472.1 186.3h0M474.8 175.9h0M476.4 188.7h0M467.6 165.6h0M473.2 188.9h0M472.0 180.1h0M469.9 168.9h0M474.7 188.1h0M468.2 183.7h0M471.9 187.3h0M471.4 174.6h0M472.3 175.1h0M472.9 183.5h0M470.6 180.4h0M464.6 181.7h0M475.4 188.1h0M464.0 185.9h0M476.6 186.5h0M464.1 186.7h0M476.2 186.9h0M472.8 186.7h0M471.0 180.9h0M475.6 181.7h0M474.8 185.6h0M467.8 184.8h0M470.3 167.3h0M474.6 179.1h0M476.3 186.6h0M464.8 183.2h0M468.5 187.6h0M467.9 182.5h0M468.8 187.6h0M472.2 177.5h0M474.1 186.3h0M469.8 176.7h0M472.0 184.0h0M471.2 168.7h0M476.1 186.7h0M468.4 179.7h0M462.9 169.2h0M469.3 183.0h0M476.5 188.7h0M468.0 179.1h0M472.4 178.5h0M472.9 171.8h0M470.0 181.3h0M476.4 187.4h0M473.2 186.7h0M472.6 183.5h0M471.3 166.0h0M471.7 172.3h0M471.2 186.7h0M471.3 176.7h0M475.4 182.8h0M462.2 181.3h0M473.3 188.7h0M463.4 181.6h0M472.9 175.0h0M471.5 184.7h0M469.4 182.5h0M472.1 188.0h0M470.7 185.4h0M475.4 185.2h0M472.4 182.1h0M469.4 186.4h0M471.8 176.5h0M472.7 175.9h0M472.4 183.7h0M469.7 172.4h0M469.7 181.9h0M472.3 163.1h0M470.0 183.5h0M471.6 186.9h0M471.5 186.6h0M471.4 181.4h0M464.8 182.9h0M469.7 182.6h0M474.8 188.3h0M474.1 172.3h0M473.4 170.8h0M468.8 184.6h0M473.1 180.0h0M465.7 167.6h0M464.1 184.9h0M471.9 177.4h0M474.6 183.8h0M469.5 171.2h0M475.8 188.8h0M472.0 187.4h0M467.8 181.3h0M475.7 182.7h0M459.3 183.8h0M473.0 189.3h0M473.4 187.5h0M463.2 170.8h0M467.6 169.8h0M474.1 189.0h0M471.4 178.3h0M471.6 170.5h0M469.3 184.6h0M475.4 189.3h0M474.8 189.1h0M471.6 182.4h0M471.6 181.8h0M475.2 185.2h0M471.1 158.5h0M470.5 185.4h0M475.5 189.1h0M472.6 188.7h0M470.0 163.8h0M465.6 167.9h0M474.7 175.4h0M472.4 187.7h0M471.1 171.0h0M469.7 188.3h0M474.4 189.2h0M475.6 187.6h0M471.1 157.5h0M471.8 183.8h0M469.9 166.5h0M470.3 188.4h0M467.0 170.0h0M470.6 185.6h0M474.1 181.9h0M475.0 185.0h0M471.3 181.2h0M468.8 187.0h0M471.0 184.6h0M476.3 186.4h0M473.3 179.6h0M465.6 177.4h0M468.3 182.3h0M469.8 187.1h0M474.9 183.4h0M464.0 180.3h0M469.4 173.5h0M471.7 173.9h0M473.7 184.5h0M469.1 180.3h0M472.5 187.7h0M470.8 184.0h0M475.5 189.0h0M472.8 186.2h0M462.4 183.4h0M469.4 183.9h0M471.3 179.7h0M470.5 186.6h0M455.5 181.0h0M469.7 185.1h0M474.8 178.3h0M471.5 165.9h0M473.0 185.5h0M469.6 181.5h0M467.4 184.0h0M472.5 188.5h0M474.5 181.1h0M471.6 184.9h0M475.3 183.4h0M470.2 175.2h0M469.1 155.2h0M475.5 182.2h0M475.4 186.6h0M469.1 179.3h0M467.6 187.8h0M477.0 189.3h0M473.6 178.8h0M470.3 184.1h0M473.3 186.5h0M470.9 181.9h0M468.9 172.4h0M471.2 185.6h0M470.9 188.1h0M466.5 186.0h0M470.9 184.1h0M471.3 184.5h0M468.2 182.4h0M474.6 181.3h0M462.8 179.0h0M466.5 186.3h0M467.1 184.4h0M470.9 184.4h0M469.1 175.6h0M472.1 186.1h0M475.3 187.0h0M470.0 175.8h0M464.2 183.8h0M475.1 186.2h0M468.6 184.2h0M470.0 176.1h0M474.4 175.7h0M476.1 184.9h0M472.4 183.1h0M475.7 185.4h0M470.3 174.4h0M462.8 168.7h0M472.1 182.6h0M476.2 186.6h0M475.7 183.8h0M474.1 177.4h0M475.0 182.1h0M470.1 188.3h0M463.0 182.3h0M475.2 180.6h0M469.0 174.3h0M466.1 147.1h0M475.2 188.0h0M473.1 186.5h0M473.5 187.1h0M474.9 188.1h0M455.6 178.1h0M473.2 185.5h0M473.7 184.3h0M471.1 167.5h0M466.5 181.6h0M473.2 177.3h0M470.1 186.4h0M474.9 181.9h0M470.2 185.6h0M471.5 178.9h0M466.4 178.8h0M475.5 184.2h0M467.3 184.6h0M474.4 180.7h0M467.8 186.7h0M470.4 181.6h0M472.9 184.1h0M475.2 179.5h0M471.6 187.6h0M472.8 187.3h0M469.6 174.1h0M462.9 183.6h0M471.1 183.7h0M473.4 180.5h0M472.1 182.7h0M466.8 185.6h0M473.7 186.1h0M462.8 180.6h0M461.1 179.1h0M468.8 186.7h0M465.9 176.6h0M465.9 164.0h0M464.7 167.4h0M475.7 189.0h0M469.7 186.3h0M473.6 180.0h0M465.1 172.2h0M476.0 187.7h0M469.3 182.3h0M469.5 181.5h0M476.1 186.6h0M471.8 188.6h0M472.7 178.4h0M470.7 183.6h0M476.3 188.8h0M467.7 183.8h0M464.2 183.4h0M469.6 186.9h0M474.2 182.8h0M473.5 175.4h0M472.0 183.7h0M467.6 169.7h0M473.3 181.7h0M475.8 189.4h0M471.1 188.5h0M474.3 183.2h0M476.1 188.0h0M469.1 185.3h0M469.5 186.4h0M473.8 186.4h0M461.4 174.7h0M475.4 186.7h0M469.6 178.1h0M466.9 183.8h0M470.2 186.3h0M475.6 188.3h0M462.8 185.4h0M470.5 187.6h0M469.0 181.9h0M470.1 188.5h0M474.4 182.3h0M474.4 183.6h0M469.1 185.1h0M469.6 163.4h0M471.4 184.9h0M469.8 182.4h0M469.9 179.9h0M471.0 173.5h0M471.9 174.9h0M465.0 159.0h0M468.8 186.5h0M476.1 188.9h0M476.2 186.5h0M468.6 184.2h0M470.6 180.5h0M473.9 182.7h0M464.1 186.0h0M469.2 173.6h0M465.6 181.7h0M465.2 163.6h0M463.3 184.3h0M466.9 186.8h0M468.2 177.9h0M473.4 185.1h0M470.6 185.5h0M465.3 156.6h0M464.0 184.9h0M467.7 183.1h0M474.2 173.1h0M465.3 175.2h0M468.0 187.5h0M470.7 187.6h0M474.6 182.6h0M470.0 174.4h0M461.0 181.8h0M471.1 188.5h0M474.8 184.8h0M466.3 170.1h0M470.6 157.5h0M471.1 185.4h0M473.2 185.3h0M468.6 176.1h0M470.6 182.5h0M475.6 181.6h0M471.6 181.6h0M474.6 188.2h0M472.2 180.1h0M471.2 160.8h0M465.4 174.0h0M470.8 184.2h0M466.2 175.6h0M467.4 184.7h0M468.5 185.5h0M473.9 181.6h0M469.1 186.5h0M471.7 161.8h0M471.1 187.8h0M474.6 179.2h0M468.7 179.6h0M471.3 178.9h0M473.1 184.0h0M473.8 181.0h0M472.3 185.6h0M474.6 187.3h0M463.1 176.3h0M463.9 175.7h0M476.1 185.3h0M467.5 187.2h0M474.4 183.8h0M466.4 180.6h0M470.0 187.2h0M475.4 186.9h0M473.8 184.6h0M464.9 179.4h0M469.8 186.4h0M469.3 178.8h0M460.8 184.9h0M466.5 184.0h0M466.2 175.2h0M472.4 184.5h0M470.6 164.4h0M467.1 183.0h0M462.2 183.6h0M474.5 186.0h0M469.1 181.9h0M462.3 183.5h0M473.1 184.1h0M469.1 188.2h0M469.1 183.9h0M467.3 183.2h0M474.8 187.9h0M465.2 182.0h0M474.4 174.1h0M475.3 186.6h0M470.8 181.9h0M471.0 179.6h0M474.1 185.6h0M472.7 174.6h0M469.3 187.0h0M471.4 189.2h0M472.0 187.9h0M472.0 186.9h0M470.1 185.8h0M461.7 184.1h0M464.3 180.4h0M463.5 175.3h0M472.8 189.2h0M468.5 172.5h0M473.5 185.4h0M474.8 184.5h0M448.7 167.7h0M472.0 162.0h0M471.8 170.1h0M474.8 178.8h0M464.6 164.7h0M463.4 178.6h0M474.5 181.6h0M472.3 188.3h0M465.5 183.8h0M459.6 182.9h0M472.7 180.2h0M473.4 187.1h0M472.5 185.7h0M475.2 185.0h0M465.1 170.6h0M469.7 171.3h0M458.6 183.5h0M469.8 182.1h0M472.5 187.7h0M474.4 185.0h0M473.1 166.5h0M471.9 179.6h0M470.4 169.1h0M474.7 187.5h0M469.1 188.3h0M473.8 173.9h0M474.7 185.0h0M459.3 177.5h0M471.0 188.4h0M474.7 179.0h0M471.2 175.3h0M475.7 186.2h0M472.3 184.6h0M469.9 184.8h0M467.2 173.3h0M470.6 188.0h0M464.4 184.9h0M468.6 184.8h0M470.7 168.3h0M474.1 183.8h0M473.6 185.2h0M472.2 176.0h0M471.9 186.5h0M472.0 165.6h0M473.3 187.6h0M474.6 187.8h0M467.6 179.2h0M473.9 186.5h0M473.8 180.0h0M473.2 182.1h0M468.7 183.4h0M474.9 178.8h0M474.2 182.3h0M470.5 183.4h0M472.1 185.9h0M472.3 185.1h0M468.5 186.3h0M471.1 187.6h0M475.7 185.6h0M469.1 177.0h0M467.0 187.5h0M470.2 179.5h0M473.7 180.1h0M472.6 184.3h0M473.6 189.2h0M472.7 175.8h0M467.6 176.1h0M467.7 159.5h0M469.4 176.1h0M470.4 186.9h0M472.7 186.7h0M473.7 183.1h0M473.8 180.6h0M465.4 177.5h0M475.6 184.1h0M471.4 178.2h0M471.2 188.1h0M474.3 188.9h0M475.8 183.8h0M472.6 167.3h0M470.0 187.5h0M466.3 187.3h0M472.0 185.7h0M472.6 181.4h0M468.8 185.0h0M473.1 184.4h0M468.3 171.6h0M469.7 186.5h0M471.9 186.2h0M470.2 182.2h0M475.2 186.6h0M461.6 171.0h0M467.8 186.6h0M475.7 189.3h0M468.9 176.3h0M467.7 172.4h0M474.4 180.9h0M467.4 149.0h0M465.6 184.7h0M466.5 183.8h0M472.3 181.5h0M475.2 185.6h0M466.9 184.4h0M473.1 187.0h0M473.3 173.3h0M476.7 189.3h0M470.2 181.4h0M469.8 176.8h0M473.2 176.0h0M469.1 186.7h0M470.0 170.9h0M468.8 177.1h0M468.5 188.1h0M473.0 185.4h0M474.3 188.1h0M470.3 179.8h0M466.0 180.3h0M470.7 171.1h0M468.3 179.1h0M470.2 185.6h0M472.5 179.5h0M470.2 181.6h0M474.5 186.3h0M474.8 188.2h0M470.9 176.8h0M469.3 179.4h0M473.7 188.4h0M471.1 179.6h0M470.5 184.1h0M474.2 178.1h0M459.9 172.7h0M469.6 186.7h0M475.1 181.6h0M476.5 189.1h0M464.1 181.4h0M469.5 181.0h0M468.9 174.9h0M475.5 187.9h0M464.4 180.7h0M466.8 146.1h0M475.5 185.5h0M474.4 188.9h0M472.5 185.8h0M448.1 168.9h0M475.4 178.8h0M467.7 184.9h0M468.7 184.5h0M469.3 187.1h0M466.1 185.2h0M476.5 189.4h0M471.4 182.7h0M467.3 181.8h0M471.4 165.0h0M473.5 180.0h0M471.7 187.3h0M465.9 185.3h0M470.5 185.9h0M472.4 187.5h0M474.8 183.4h0M473.7 178.0h0M462.7 171.2h0M473.0 176.6h0M464.3 169.9h0M467.9 174.6h0M469.3 187.6h0M471.5 184.7h0M468.8 186.4h0M468.8 163.5h0M469.3 166.5h0M472.5 188.6h0M471.1 177.8h0M471.7 184.1h0M474.5 187.3h0M472.0 183.6h0M472.9 171.7h0M469.8 188.7h0M471.9 166.7h0M474.5 185.6h0M476.0 187.6h0M470.6 174.1h0M464.9 185.9h0M476.6 188.0h0M473.4 186.9h0M474.4 185.9h0M473.7 179.3h0M472.0 187.9h0M476.9 187.4h0M471.2 185.4h0M470.3 182.4h0M453.3 175.5h0M467.0 184.3h0M475.1 188.2h0M471.7 179.3h0M464.9 181.7h0M468.2 186.2h0M469.0 188.2h0M475.3 183.1h0M474.9 184.5h0M470.2 186.3h0M473.3 186.0h0M470.8 186.4h0M466.4 183.5h0M476.1 186.4h0M475.4 183.4h0M470.9 169.1h0M466.8 182.9h0M471.2 186.9h0M467.2 160.8h0M468.5 187.3h0M471.2 185.8h0M459.6 171.9h0M468.1 182.2h0M470.6 184.4h0M469.3 174.3h0M471.6 188.0h0M472.3 180.1h0M476.5 188.7h0M476.0 184.3h0M471.2 177.4h0M470.2 181.8h0M474.6 187.4h0M473.8 171.8h0M471.3 177.5h0M473.5 187.8h0M467.8 184.4h0M474.0 175.3h0M463.0 178.7h0M463.1 181.6h0M472.3 175.3h0M469.9 186.1h0M471.8 187.8h0M474.8 189.1h0M475.0 187.1h0M469.9 187.3h0M470.0 180.4h0M469.2 185.1h0M473.1 187.6h0M463.4 168.6h0M472.4 188.3h0M473.5 181.7h0M460.4 180.3h0M471.1 187.0h0M460.6 174.5h0M469.7 174.6h0M453.0 177.2h0M472.0 174.0h0M467.4 152.6h0M474.0 180.2h0M465.0 185.6h0M468.9 176.3h0M476.2 184.9h0M471.7 165.3h0M470.7 179.4h0M455.2 170.9h0M466.9 165.8h0M472.7 188.7h0M474.2 184.7h0M474.4 183.5h0M473.7 179.8h0M468.2 185.7h0M466.7 186.1h0M476.5 189.4h0M452.5 169.4h0M473.4 186.9h0M469.2 163.0h0M474.8 182.2h0M473.5 169.5h0M473.9 188.4h0M466.1 172.9h0M475.1 183.3h0M472.1 186.9h0M472.8 184.4h0M458.9 175.8h0M450.8 175.9h0M452.7 172.8h0M467.4 176.7h0M474.8 188.5h0M476.9 188.0h0M475.0 180.2h0M471.1 182.5h0M470.5 185.9h0M471.1 178.9h0M458.9 176.4h0M476.2 188.0h0M472.2 165.9h0M475.5 179.9h0M474.7 184.4h0M474.1 175.1h0M470.7 181.3h0M473.8 182.6h0M474.8 185.5h0M473.8 188.3h0M471.5 188.1h0M472.5 178.7h0M473.5 182.8h0M470.4 184.0h0M473.1 188.5h0M468.4 166.8h0M471.3 163.7h0M471.4 179.2h0M474.8 181.2h0M468.9 171.3h0M469.7 182.8h0M472.5 187.6h0M468.4 183.0h0M474.4 184.7h0M465.8 182.0h0M469.6 174.7h0M475.3 188.0h0M471.3 177.7h0M475.3 179.0h0M474.4 185.9h0M472.6 186.3h0M471.7 182.6h0M469.6 188.3h0M474.4 180.4h0M473.0 182.7h0M468.8 186.6h0M468.2 187.7h0M463.3 179.3h0M473.4 168.9h0M472.4 177.5h0M471.6 181.7h0M465.3 186.4h0M468.8 169.3h0M475.0 184.2h0M473.8 172.3h0M464.2 184.8h0M470.8 178.3h0M474.9 180.0h0M470.0 186.9h0M475.3 188.1h0M472.3 186.4h0M474.2 187.1h0M472.9 189.0h0M473.2 179.9h0M471.4 186.8h0M474.5 178.0h0M475.1 189.0h0M471.7 187.1h0M473.2 187.9h0M473.2 180.3h0M473.3 188.7h0M475.1 185.1h0M476.2 184.9h0M473.0 182.6h0M468.4 171.5h0M470.6 188.1h0M464.8 179.4h0M475.0 186.2h0M467.1 184.7h0M473.1 182.2h0M472.0 187.9h0M475.5 184.7h0M475.8 187.3h0M454.5 176.9h0M468.6 187.9h0M469.4 182.8h0M473.7 175.1h0M475.3 188.4h0M466.7 152.6h0M473.2 186.9h0M464.0 186.5h0M470.1 171.4h0M475.0 186.3h0M474.7 188.4h0M467.6 180.6h0M460.9 182.9h0M473.4 180.1h0M472.7 187.8h0M470.5 188.2h0M465.5 181.2h0M473.4 188.5h0M473.8 188.7h0M475.2 185.8h0M467.3 181.2h0M466.6 186.6h0M474.9 187.9h0M474.8 186.5h0M474.0 188.2h0M471.8 187.0h0M471.0 184.1h0M475.0 187.0h0M465.9 179.4h0M474.1 187.0h0M474.7 177.8h0M475.8 184.7h0M475.4 183.2h0M472.2 176.4h0M466.9 185.6h0M473.6 186.3h0M474.6 186.8h0M467.1 181.2h0M466.5 168.2h0M461.4 182.2h0M472.5 186.1h0M469.2 186.6h0M474.4 182.9h0M475.8 186.7h0M468.5 173.9h0M472.1 187.6h0M475.1 189.3h0M470.5 184.5h0M471.2 187.7h0M473.2 179.5h0M468.2 183.2h0M475.9 189.6h0M474.3 183.1h0M464.1 173.5h0M468.1 188.0h0M469.9 184.5h0M471.5 183.7h0M474.7 179.9h0M472.9 189.0h0M473.6 182.5h0M473.6 180.7h0M475.2 181.4h0M468.5 179.6h0M471.6 177.7h0M463.7 176.9h0M475.2 187.3h0M476.1 184.6h0M472.8 184.9h0M472.7 178.7h0M467.7 184.9h0M468.4 181.5h0M474.7 180.2h0M471.7 187.6h0M470.2 184.0h0M467.8 154.3h0M473.3 179.8h0M468.4 187.7h0M469.8 187.7h0M472.7 184.1h0M467.1 165.8h0M467.1 164.8h0M475.5 184.3h0M469.6 169.3h0M466.9 178.6h0M466.8 179.4h0M467.4 173.6h0M474.8 179.6h0M470.1 182.9h0M469.3 167.9h0M465.0 187.1h0M472.7 164.5h0M470.2 181.2h0M476.0 186.1h0M473.9 185.9h0M473.0 180.5h0M460.4 183.1h0M471.6 182.2h0M470.0 186.8h0M470.7 187.7h0M469.0 187.4h0M472.0 164.0h0M472.8 187.7h0M473.9 183.2h0M473.1 182.6h0M471.7 177.0h0M468.6 182.0h0M473.7 188.1h0M472.1 188.3h0M472.5 182.9h0M476.4 185.5h0M470.4 186.4h0M469.3 186.6h0M473.8 185.4h0M474.2 172.7h0M475.5 184.7h0M474.5 179.7h0M468.8 183.9h0M474.8 182.3h0M464.4 182.3h0M475.9 189.6h0M470.8 172.1h0M449.5 174.9h0M469.2 187.0h0M472.8 177.6h0M456.0 179.1h0M471.2 183.9h0M473.3 183.9h0M464.5 184.8h0M472.4 181.4h0M472.8 185.4h0M464.2 183.2h0M472.9 181.0h0M470.5 176.8h0M468.9 176.6h0M472.8 189.1h0M473.6 183.9h0M462.7 183.0h0M474.9 177.5h0M471.7 187.9h0M474.2 187.3h0M473.7 186.1h0M469.9 179.6h0M476.2 185.0h0M467.6 179.0h0M471.2 187.0h0M472.5 185.7h0M464.5 175.2h0M469.8 187.2h0M456.5 181.2h0M469.1 186.8h0M468.3 180.0h0M491.4 186.1h0M480.0 181.3h0M483.0 175.8h0M482.2 185.9h0M478.6 187.0h0M480.2 189.1h0M478.2 189.0h0M481.2 174.6h0M484.4 182.1h0M481.1 178.2h0M483.8 182.7h0M487.2 174.5h0M489.0 183.3h0M488.1 178.1h0M486.9 157.5h0M487.7 186.7h0M482.2 184.4h0M481.7 186.6h0M480.6 185.4h0M487.1 184.1h0M482.8 169.8h0M495.5 180.3h0M487.3 176.6h0M480.6 188.1h0M481.6 186.5h0M485.6 183.2h0M483.7 183.4h0M487.5 185.1h0M494.8 184.1h0M479.7 180.0h0M478.4 189.0h0M480.1 182.6h0M482.2 181.0h0M486.5 174.0h0M493.3 181.7h0M481.7 166.3h0M481.5 186.8h0M483.9 174.7h0M488.2 185.0h0M479.2 188.6h0M479.7 187.6h0M483.4 185.8h0M479.6 177.7h0M482.5 177.2h0M486.7 182.4h0M480.3 187.6h0M488.6 179.9h0M481.9 185.3h0M486.5 179.4h0M482.3 184.8h0M481.1 172.5h0M484.4 180.1h0M484.0 179.0h0M482.1 183.0h0M478.4 184.4h0M481.3 185.1h0M483.6 182.1h0M489.7 169.5h0M480.9 186.7h0M481.4 175.7h0M479.7 188.7h0M479.6 180.4h0M479.8 186.3h0M487.8 185.5h0M489.7 173.8h0M481.2 175.4h0M484.8 178.9h0M486.3 179.0h0M487.7 185.8h0M477.9 189.2h0M502.0 170.5h0M480.0 184.5h0M482.4 187.4h0M481.4 175.0h0M496.5 171.8h0M482.3 184.8h0M490.0 141.5h0M482.9 188.2h0M490.7 177.4h0M478.2 185.3h0M480.3 176.2h0M479.4 178.4h0M485.6 187.0h0M489.7 185.0h0M490.1 176.4h0M487.8 184.6h0M488.0 168.4h0M489.4 179.6h0M482.8 173.5h0M487.3 173.0h0M481.5 187.4h0M479.6 178.7h0M480.2 186.9h0M482.8 182.0h0M479.8 181.6h0M481.2 188.0h0M487.0 168.4h0M486.4 177.0h0M478.0 185.9h0M481.8 176.0h0M480.9 182.1h0M480.1 185.1h0M479.2 181.6h0M482.6 179.1h0M491.5 176.0h0M488.8 158.3h0M489.3 184.2h0M478.9 186.6h0M488.1 155.6h0M489.3 169.3h0M482.9 170.8h0M483.3 186.6h0M488.3 180.4h0M484.2 185.4h0M481.1 183.2h0M489.0 155.2h0M480.7 171.7h0M484.0 184.6h0M482.2 176.5h0M489.0 177.1h0M479.2 181.3h0M487.6 179.4h0M488.1 167.6h0M483.9 178.4h0M486.1 177.2h0M480.2 185.7h0M485.7 182.9h0M484.1 181.6h0M485.5 188.0h0M480.0 176.6h0M485.7 179.3h0M480.8 174.9h0M482.4 185.5h0M479.3 186.4h0M484.7 182.9h0M479.6 178.8h0M487.9 179.1h0M485.7 184.6h0M485.2 182.0h0M481.5 183.2h0M479.8 186.5h0M480.4 186.1h0M489.9 175.6h0M481.1 178.6h0M480.5 186.6h0M481.4 182.8h0M484.8 187.3h0M494.4 181.1h0M492.2 170.7h0M479.1 187.4h0M491.7 184.1h0M484.1 183.8h0M484.3 186.8h0M478.8 184.9h0M480.0 175.6h0M480.6 187.1h0M486.0 178.8h0M487.1 173.2h0M481.6 176.2h0M486.2 179.3h0M494.2 173.7h0M480.1 180.0h0M484.2 180.9h0M480.1 177.0h0M482.8 184.3h0M486.4 186.0h0M495.7 175.0h0M484.7 182.2h0M481.1 184.5h0M488.7 177.2h0M480.5 180.5h0M487.4 168.4h0M479.5 179.1h0M478.4 184.4h0M480.9 184.4h0M482.8 180.5h0M480.6 175.5h0M485.9 169.7h0M482.7 187.3h0M483.9 183.8h0M481.1 182.2h0M482.7 183.7h0M482.9 161.5h0M497.7 168.0h0M491.1 181.4h0M482.5 163.4h0M482.0 182.4h0M484.4 187.8h0M483.8 181.1h0M485.3 178.8h0M481.5 168.2h0M481.3 188.0h0M478.4 188.7h0M480.5 175.4h0M479.3 179.8h0M496.1 175.1h0M481.9 185.0h0M485.2 181.9h0M478.7 188.3h0M484.7 188.1h0M494.9 180.3h0M483.0 182.9h0M483.4 172.8h0M480.4 188.8h0M482.5 183.0h0M491.9 175.5h0M479.2 181.6h0M480.9 172.9h0M479.8 189.0h0M484.3 183.1h0M484.5 187.4h0M481.0 171.7h0M490.4 173.7h0M487.3 187.3h0M492.8 185.5h0M480.8 184.0h0M483.0 185.5h0M484.9 188.1h0M482.9 181.5h0M492.8 183.3h0M478.5 188.3h0M481.0 175.3h0M481.0 185.0h0M491.5 181.1h0M490.0 186.4h0M482.3 180.7h0M478.6 187.6h0M479.9 188.1h0M487.5 179.0h0M480.9 175.1h0M477.8 187.6h0M483.5 180.9h0M485.9 185.8h0M480.5 172.6h0M482.1 182.8h0M484.6 181.8h0M488.9 170.7h0M479.7 183.5h0M478.6 188.4h0M479.9 184.2h0M486.1 186.4h0M484.9 150.8h0M478.5 183.9h0M479.3 187.9h0M502.8 177.8h0M479.0 186.2h0M483.3 168.3h0M484.3 179.3h0M481.3 180.7h0M486.6 180.9h0M480.3 188.7h0M485.3 183.4h0M479.1 187.6h0M478.7 186.5h0M478.4 186.8h0M483.3 187.8h0M481.2 172.9h0M479.2 182.5h0M481.5 185.4h0M479.2 184.1h0M480.6 182.8h0M477.7 188.6h0M494.4 169.7h0M485.9 186.5h0M485.1 187.4h0M480.4 184.2h0M483.4 183.6h0M485.2 187.4h0M489.9 182.8h0M485.3 188.0h0M479.4 187.2h0M495.5 182.9h0M483.8 183.8h0M482.6 181.1h0M484.9 178.9h0M478.7 182.6h0M486.1 186.6h0M483.7 181.1h0M481.4 177.4h0M488.2 185.9h0M481.8 184.5h0M488.5 170.3h0M484.3 180.0h0M490.9 167.6h0M487.7 187.3h0M483.9 188.7h0M491.8 183.9h0M480.9 188.8h0M479.8 185.2h0M489.4 184.3h0M481.4 184.7h0M483.3 187.6h0M486.4 174.8h0M478.6 188.2h0M482.6 186.6h0M482.3 184.1h0M480.7 176.8h0M481.2 184.4h0M482.7 171.9h0M481.3 176.5h0M493.3 185.0h0M483.4 184.1h0M482.5 186.2h0M489.4 185.3h0M481.6 180.7h0M484.0 183.0h0M483.9 157.7h0M494.4 182.9h0M478.1 188.0h0M479.5 188.9h0M488.9 179.4h0M485.9 184.3h0M490.9 185.0h0M482.5 186.9h0M487.8 173.6h0M488.0 172.6h0M487.0 176.3h0M480.3 183.8h0M488.8 168.5h0M492.7 179.2h0M489.6 165.0h0M485.7 187.5h0M489.2 186.5h0M482.6 183.8h0M478.7 184.9h0M488.4 179.4h0M480.8 185.5h0M486.5 180.7h0M485.8 183.7h0M486.5 180.0h0M480.4 188.0h0M481.9 171.4h0M484.2 188.3h0M484.6 177.8h0M487.8 182.5h0M486.7 187.6h0M482.4 188.1h0M481.0 179.2h0M486.8 175.5h0M480.3 189.0h0M488.3 185.3h0M483.4 177.4h0M481.1 176.5h0M481.3 183.5h0M479.6 178.6h0M477.9 186.4h0M482.4 183.9h0M479.0 188.7h0M478.9 184.0h0M483.7 188.2h0M479.6 187.8h0M481.8 186.5h0M483.2 167.4h0M480.0 186.0h0M478.9 181.8h0M480.1 176.4h0M481.4 184.9h0M484.9 180.0h0M487.6 184.3h0M485.8 166.8h0M482.8 187.8h0M478.2 187.8h0M486.4 185.8h0M479.0 187.7h0M480.1 186.7h0M481.2 179.9h0M486.6 177.9h0M482.4 183.8h0M500.2 173.3h0M487.9 185.0h0M481.3 185.4h0M483.5 183.2h0M487.6 169.4h0M482.3 184.2h0M488.0 184.1h0M485.5 186.7h0M487.9 177.6h0M482.7 185.5h0M478.9 188.4h0M486.2 186.1h0M480.3 177.1h0M485.6 178.9h0M487.1 183.2h0M486.8 184.2h0M481.6 180.6h0M479.4 184.3h0M479.7 183.5h0M481.2 186.8h0M493.9 182.4h0M482.6 167.7h0M481.8 183.6h0M482.5 181.6h0M502.8 177.7h0M500.7 176.9h0M488.9 186.6h0M482.1 172.6h0M509.7 171.1h0M486.9 179.9h0M484.7 185.9h0M482.1 186.3h0M479.5 186.7h0M483.0 183.2h0M485.5 184.5h0M487.6 171.9h0M486.5 181.3h0M484.9 185.6h0M479.9 185.0h0M480.5 173.5h0M485.9 187.7h0M487.1 185.8h0M481.6 188.7h0M485.1 174.4h0M479.3 180.6h0M487.0 181.6h0M479.8 177.4h0M494.7 179.0h0M490.6 183.1h0M488.9 175.8h0M481.5 175.4h0M485.6 175.9h0M488.1 182.3h0M483.6 159.0h0M488.5 187.4h0M487.2 185.7h0M481.9 174.0h0M489.2 171.4h0M486.6 180.6h0M482.8 176.8h0M481.8 177.8h0M492.4 171.7h0M483.2 188.4h0M478.4 189.0h0M479.6 184.7h0M481.9 187.4h0M481.3 186.2h0M488.3 184.0h0M481.8 176.2h0M487.5 182.3h0M481.7 188.0h0M483.9 186.5h0M484.7 183.1h0M484.2 184.7h0M486.4 180.8h0M488.2 148.1h0M483.3 180.0h0M480.6 185.7h0M489.0 183.2h0M480.2 187.8h0M481.3 182.4h0M495.1 180.5h0M479.3 179.3h0M483.9 176.9h0M482.5 176.1h0M485.3 187.9h0M489.1 181.6h0M494.1 181.7h0M488.4 185.8h0M484.2 180.6h0M479.5 186.3h0M479.3 188.7h0M481.5 187.7h0M482.2 181.1h0M486.6 181.6h0M481.5 188.4h0M478.9 188.6h0M490.1 186.6h0M479.1 187.9h0M480.1 189.1h0M490.9 185.4h0M499.6 177.1h0M479.3 185.1h0M485.1 182.1h0M485.8 186.7h0M481.5 183.5h0M486.3 182.9h0M483.3 186.9h0M479.9 183.8h0M481.9 177.6h0M491.9 183.5h0M489.1 180.8h0M485.0 182.3h0M481.2 173.8h0M488.2 183.9h0M481.8 168.3h0M486.4 184.4h0M482.5 183.6h0M480.4 186.1h0M484.5 183.1h0M480.9 188.1h0M482.1 183.5h0M480.0 187.4h0M492.0 177.1h0M484.5 180.3h0M484.1 188.6h0M482.8 188.0h0M482.4 187.6h0M484.1 175.5h0M486.9 187.5h0M485.4 164.0h0M480.0 184.0h0M480.1 185.7h0M480.6 172.0h0M496.7 177.4h0M486.3 176.4h0M486.8 164.0h0M479.9 186.1h0M495.5 183.6h0M482.8 171.0h0M483.3 177.1h0M488.6 170.0h0M484.5 183.1h0M485.4 186.1h0M480.5 178.4h0M490.0 185.9h0M480.2 184.5h0M486.3 169.3h0M488.6 178.4h0M482.9 185.7h0M486.7 184.7h0M488.3 176.0h0M492.4 175.5h0M479.2 188.1h0M487.0 186.5h0M485.6 182.1h0M482.6 188.4h0M479.0 188.9h0M482.5 168.4h0M482.8 182.3h0M484.1 187.9h0M481.6 168.5h0M486.5 168.3h0M485.1 179.6h0M482.3 169.3h0M482.0 186.7h0M480.6 188.0h0M480.7 173.4h0M489.5 183.7h0M485.5 187.7h0M485.4 181.3h0M490.1 184.9h0M480.2 186.8h0M479.4 188.2h0M493.9 180.0h0M480.1 180.4h0M479.0 181.0h0M482.5 174.4h0M485.0 180.6h0M484.3 184.2h0M481.7 188.4h0M481.1 184.8h0M489.1 186.2h0M482.6 182.4h0M489.5 186.9h0M487.8 183.9h0M489.5 183.8h0M483.0 183.7h0M479.7 182.4h0M486.3 174.9h0M490.8 184.0h0M491.6 185.5h0M482.9 185.1h0M488.7 178.3h0M488.0 156.7h0M483.6 175.7h0M482.1 184.9h0M483.4 184.0h0M479.9 180.9h0M482.6 180.2h0M488.5 187.0h0M493.7 182.3h0M487.6 177.7h0M485.0 165.8h0M481.8 183.3h0M478.5 188.3h0M481.3 176.2h0M484.0 178.0h0M496.9 171.0h0M486.8 185.2h0M480.2 185.6h0M483.0 187.5h0M496.4 178.2h0M488.7 167.1h0M479.8 187.2h0M489.9 155.3h0M488.7 184.7h0M481.3 181.7h0M489.8 185.6h0M479.3 185.2h0M480.5 176.3h0M482.2 181.9h0M479.9 185.9h0M488.9 179.3h0M489.5 183.2h0M479.4 186.7h0M483.6 187.2h0M491.0 173.1h0M480.6 178.3h0M485.6 180.8h0M495.7 179.6h0M489.9 182.1h0M480.0 187.9h0M485.9 181.4h0M479.0 183.6h0M492.4 168.2h0M480.2 178.9h0M478.2 186.5h0M480.4 179.8h0M480.7 184.0h0M480.2 188.8h0M483.8 175.5h0M484.4 152.6h0M480.2 177.1h0M481.3 182.4h0M486.5 183.3h0M481.1 182.8h0M480.8 185.3h0M482.7 184.6h0M484.2 184.1h0M487.5 185.1h0M494.2 182.1h0M479.2 187.5h0M482.2 176.1h0M487.5 180.4h0M483.9 187.4h0M480.3 184.1h0M487.1 162.4h0M484.4 186.2h0M489.5 186.1h0M483.7 179.0h0M485.5 183.7h0M482.5 175.9h0M480.6 185.3h0M478.7 187.7h0M480.6 181.1h0M485.7 186.3h0M483.1 174.8h0M481.7 181.7h0M488.4 158.9h0M481.5 170.7h0M478.7 183.9h0M480.8 185.6h0M484.3 183.2h0M477.7 188.7h0M483.5 185.2h0M483.9 186.9h0M480.0 184.0h0M482.8 166.2h0M483.5 187.3h0M484.1 167.0h0M481.5 182.0h0M481.0 181.5h0M484.3 185.4h0M486.4 183.8h0M480.9 187.7h0M488.5 169.2h0M484.8 156.8h0M480.8 186.1h0M482.8 173.5h0M481.6 167.6h0M478.3 184.2h0M481.6 187.2h0M486.4 182.4h0M485.2 180.7h0M488.8 186.8h0M486.2 183.0h0M478.9 182.6h0M484.6 182.7h0M484.6 188.4h0M479.0 183.8h0M483.9 179.2h0M480.5 179.0h0M480.2 176.8h0M483.6 179.9h0M479.0 184.7h0M484.8 182.6h0M486.2 172.7h0M482.5 188.9h0M480.9 175.3h0M491.0 169.1h0M486.2 183.3h0M484.3 158.5h0M487.0 174.2h0M483.7 185.7h0M480.7 176.3h0M480.1 189.4h0M486.5 144.3h0M479.0 188.5h0M482.8 183.1h0M494.3 175.1h0M482.9 173.9h0M480.9 183.1h0M488.2 176.1h0M484.1 156.8h0M486.5 168.6h0M483.2 185.7h0M483.0 181.8h0M483.4 188.0h0M478.7 185.5h0M486.6 186.3h0M478.5 187.8h0M484.3 182.9h0M488.1 181.0h0M489.0 186.3h0M478.5 183.8h0M493.6 179.8h0M484.9 180.8h0M481.3 172.9h0M488.3 181.5h0M482.0 171.6h0M481.3 182.6h0M486.1 185.3h0M479.7 178.9h0M486.9 187.3h0M481.5 186.3h0M483.6 188.0h0M486.7 179.4h0M481.5 182.4h0M490.3 182.4h0M487.7 164.1h0M498.9 170.9h0M480.2 184.1h0M482.3 187.3h0M490.1 182.9h0M481.5 187.4h0M485.4 185.8h0M495.3 182.3h0M481.3 170.7h0M478.6 185.1h0M481.6 185.5h0M483.7 165.9h0M489.0 181.8h0M483.6 183.7h0M483.2 179.6h0M485.6 179.2h0M480.5 174.4h0M483.5 187.3h0M480.9 171.7h0M486.1 170.7h0M488.5 167.9h0M482.0 183.1h0M481.2 171.6h0M482.4 184.9h0M481.0 180.6h0M479.2 187.9h0M482.2 179.8h0M485.0 156.3h0M488.3 181.9h0M485.1 181.3h0M480.2 187.5h0M480.7 185.5h0M479.7 181.6h0M480.1 175.4h0M484.2 182.6h0M482.7 178.9h0M492.2 173.0h0M480.5 183.8h0M480.0 187.0h0M478.6 185.9h0M483.9 187.2h0M487.0 183.9h0M481.3 183.7h0M489.7 185.4h0M485.5 164.2h0M482.6 187.8h0M481.6 173.2h0M481.0 188.3h0M495.9 169.3h0M479.5 179.4h0M481.4 184.4h0M479.7 185.2h0M482.1 181.0h0M480.4 188.8h0M487.8 186.0h0M487.7 155.2h0M479.8 188.7h0M482.7 182.6h0M485.5 177.7h0M482.1 174.9h0M482.1 182.4h0M484.4 183.5h0M481.0 185.4h0M481.4 182.1h0M480.7 172.8h0M487.4 187.2h0M484.9 182.4h0M497.5 180.8h0M480.8 182.9h0M482.0 164.7h0M483.4 181.0h0M480.2 178.6h0M478.9 187.9h0M483.4 183.6h0M489.5 179.1h0M484.4 174.5h0M489.6 181.8h0M482.7 167.7h0M478.6 183.6h0M489.3 155.6h0M490.8 185.4h0M485.6 164.9h0M481.5 186.7h0M478.9 185.6h0M484.3 183.3h0M497.3 173.5h0M486.5 181.7h0M486.3 184.4h0M483.7 182.4h0M483.8 162.6h0M480.9 183.0h0M488.1 172.7h0M483.9 178.0h0M479.9 189.3h0M482.0 181.7h0M486.1 187.2h0M482.7 183.1h0M480.1 187.6h0M482.3 182.2h0M482.3 180.2h0M482.9 188.4h0M482.3 181.0h0M481.3 171.6h0M485.1 179.7h0M481.6 187.2h0M484.0 183.6h0M482.9 172.5h0M479.4 185.3h0M486.1 179.4h0M494.1 184.3h0M486.1 165.3h0M479.9 175.8h0M484.8 162.4h0M490.6 180.3h0M485.8 182.2h0M489.9 180.5h0M482.3 179.7h0M493.8 176.7h0M478.7 183.9h0M485.6 187.3h0M486.8 182.0h0M479.3 188.8h0M486.5 187.7h0M478.4 186.0h0M484.5 176.1h0M490.5 184.6h0M480.5 188.7h0M480.7 186.5h0M482.4 169.6h0M503.9 169.7h0M482.1 183.3h0M493.4 183.1h0M493.1 181.1h0M482.6 185.3h0M478.7 188.5h0M481.9 184.6h0M489.2 179.2h0M478.3 187.1h0M481.4 185.0h0M483.5 161.3h0M482.0 188.4h0M493.9 176.8h0M479.4 188.7h0M481.5 187.1h0M489.9 168.7h0M485.7 186.2h0M485.0 182.9h0M493.2 184.9h0M485.0 182.6h0M489.3 161.0h0M487.0 169.5h0M478.7 183.1h0M489.0 178.9h0M489.7 179.5h0M481.9 166.9h0M484.7 182.2h0M500.8 179.7h0M489.2 177.6h0M497.8 180.6h0M486.6 164.9h0M481.0 187.4h0M480.9 173.1h0M493.8 181.3h0M487.8 181.0h0M478.7 188.0h0M493.1 176.1h0M478.0 187.7h0M480.6 176.0h0M485.7 187.7h0M486.5 174.1h0M480.9 189.0h0M479.5 179.5h0M478.3 185.0h0M490.7 177.2h0M480.9 170.3h0M482.2 164.7h0M483.3 174.0h0M483.0 182.7h0M488.2 175.9h0M487.2 176.7h0M482.4 186.7h0M486.0 181.9h0M487.2 165.3h0M483.7 182.0h0M486.6 185.2h0M485.3 182.3h0M489.1 166.6h0M481.3 169.4h0M482.0 185.5h0M484.1 182.1h0M493.5 173.4h0M478.8 182.4h0M480.5 179.0h0M490.0 187.1h0M481.0 188.0h0M494.2 176.7h0M486.7 186.0h0M485.4 181.2h0M480.7 179.6h0M479.8 187.9h0M479.6 177.8h0M483.9 173.3h0M483.5 188.2h0M480.2 185.2h0M482.9 177.4h0M480.0 185.4h0M489.5 183.9h0M488.1 176.1h0M483.1 187.8h0M481.1 180.9h0M480.8 178.5h0M481.0 170.2h0M479.7 180.6h0M482.3 188.7h0M491.7 170.1h0M488.8 173.0h0M484.3 175.2h0M480.3 185.3h0M481.1 187.8h0M479.7 179.9h0M483.8 177.5h0M480.9 183.2h0M482.1 180.4h0M488.3 176.0h0M485.0 175.3h0M479.7 187.5h0M481.6 181.7h0M482.4 184.7h0M485.8 166.1h0M482.6 171.2h0M481.4 185.0h0M491.5 178.6h0M491.1 179.7h0M487.9 181.8h0M482.9 175.1h0M479.0 187.6h0M480.5 188.2h0M492.4 172.9h0M477.9 188.8h0M479.8 186.8h0M503.8 177.5h0M480.0 185.3h0M485.2 184.4h0M483.6 157.3h0M481.1 172.4h0M479.5 184.0h0M483.1 187.8h0M480.8 177.3h0M479.6 189.5h0M480.2 187.2h0M482.6 180.9h0M484.2 180.4h0M488.9 185.5h0M487.3 179.6h0M492.8 172.1h0M481.0 188.2h0M481.8 183.8h0M479.2 187.6h0M483.7 180.3h0M486.0 182.7h0M500.0 180.8h0M480.6 188.0h0M484.6 185.9h0M486.7 183.4h0M485.3 180.8h0M489.1 183.0h0M485.1 179.4h0M489.9 178.7h0M487.3 179.5h0M481.3 184.7h0M479.2 184.1h0M480.0 188.6h0M488.4 185.0h0M481.4 189.1h0M482.0 188.1h0M481.7 172.2h0M482.9 185.2h0M482.8 187.2h0M492.4 181.6h0M482.9 187.6h0M483.3 173.9h0M479.8 183.5h0M486.4 166.8h0M486.8 183.6h0M480.6 187.6h0M483.8 177.9h0M479.5 182.1h0M480.7 180.6h0M492.7 180.1h0M482.7 181.9h0M487.0 174.7h0M484.3 183.1h0M484.9 175.9h0M485.3 186.8h0M489.7 152.2h0M481.0 184.1h0M480.3 176.9h0M490.2 168.2h0M492.5 175.7h0M502.9 177.7h0M508.8 169.2h0M482.4 179.2h0M488.9 186.3h0M482.7 183.8h0M479.7 185.7h0M481.9 182.4h0M479.8 182.2h0M479.1 187.8h0M483.7 188.1h0M478.2 186.2h0M491.5 185.2h0M483.5 178.3h0M484.7 184.3h0M478.2 185.9h0M484.7 187.7h0M487.6 168.6h0M480.1 185.2h0M487.0 180.5h0M477.6 188.3h0M480.6 184.1h0M480.4 175.1h0M484.3 188.1h0M483.4 177.5h0M489.7 173.4h0M488.9 173.7h0M491.0 169.4h0M480.5 184.6h0M484.6 179.8h0M485.2 156.2h0M482.3 179.0h0M478.7 186.5h0M485.8 180.0h0M485.7 174.8h0M491.5 183.4h0M481.5 186.9h0M478.6 186.4h0M487.1 178.8h0M483.5 171.5h0M482.4 187.5h0M485.5 181.5h0M479.7 181.0h0M489.9 186.4h0M485.2 156.6h0M486.9 183.9h0M488.0 181.7h0M480.3 187.6h0M484.9 187.1h0M500.1 169.0h0M483.6 184.3h0M480.7 187.4h0M489.1 175.4h0M482.6 179.0h0M487.3 162.3h0M480.2 177.9h0M487.9 185.0h0M481.8 179.6h0M481.1 185.1h0M486.7 176.2h0M489.8 164.4h0M486.4 175.4h0M487.0 171.9h0M484.5 184.3h0M484.1 162.1h0M485.5 178.3h0M479.6 183.5h0M488.2 179.9h0M487.0 183.5h0M478.5 187.0h0M486.4 185.4h0M477.8 187.9h0M480.5 187.9h0M483.8 182.8h0M485.1 184.0h0M481.6 186.8h0M479.8 188.2h0M479.9 188.7h0M483.6 181.9h0M487.5 177.8h0M500.7 175.3h0M488.5 178.6h0M483.6 172.0h0M479.5 189.4h0M484.4 175.4h0M483.8 188.3h0M485.4 186.6h0M486.6 179.0h0M480.5 187.1h0M482.6 175.3h0M485.7 164.4h0M481.8 176.1h0M485.7 180.4h0M480.6 181.8h0M481.9 186.1h0M492.1 173.4h0M480.9 184.9h0M488.6 185.8h0M485.4 183.0h0M481.4 185.1h0M481.8 183.7h0M485.0 183.5h0M480.8 187.8h0M484.8 186.2h0M480.2 184.4h0M505.8 175.4h0M482.5 184.0h0M481.5 188.1h0M488.7 161.4h0M482.9 188.0h0M489.6 185.1h0M488.5 163.1h0M488.3 170.2h0M498.3 179.4h0M494.8 179.5h0M491.6 180.4h0M488.3 173.7h0M486.6 183.6h0M482.7 176.1h0M480.2 181.1h0M492.7 175.5h0M481.4 188.0h0M488.3 180.9h0M481.9 184.5h0M481.6 183.7h0M488.4 164.8h0M492.3 177.6h0M484.3 166.9h0M479.7 184.8h0M479.6 182.8h0M486.6 185.9h0M488.9 183.3h0M480.7 184.9h0M486.0 179.9h0M492.7 180.8h0M485.5 177.1h0M481.7 186.3h0M488.7 185.4h0M479.7 187.6h0M479.0 184.2h0M487.4 172.6h0M489.9 186.9h0M478.7 183.5h0M495.2 176.6h0M490.9 181.0h0M478.6 182.8h0M481.4 187.7h0M485.9 181.1h0M481.5 187.8h0M482.4 182.4h0M479.6 187.5h0M485.5 171.8h0M480.1 182.9h0M480.8 184.5h0M485.2 186.0h0M486.0 170.8h0M480.7 186.8h0M480.3 183.2h0M485.9 186.7h0M496.0 178.9h0M486.2 177.3h0M498.7 174.6h0M485.0 177.9h0M486.6 187.3h0M480.7 188.3h0M488.9 183.5h0M485.5 159.0h0M480.1 187.7h0M485.2 186.4h0M480.0 175.3h0M496.9 178.6h0M480.6 179.9h0M482.9 179.3h0M485.3 186.8h0M482.9 174.0h0M486.1 165.1h0M484.4 169.1h0M486.1 173.9h0M485.7 173.7h0M487.4 167.2h0M479.2 180.4h0M483.7 186.2h0M482.3 183.7h0M480.8 187.0h0M490.9 170.3h0M483.2 168.0h0M481.5 182.2h0M478.8 188.5h0M479.7 188.2h0M490.0 183.0h0M480.0 187.8h0M480.8 188.4h0M481.5 184.3h0M493.8 173.9h0M484.6 182.6h0M484.6 182.2h0M496.8 178.5h0M494.0 177.6h0M482.9 180.6h0M483.7 188.5h0M482.8 188.5h0M480.9 183.3h0M478.0 189.2h0M486.4 169.3h0M478.7 188.2h0M487.6 182.8h0M479.8 188.0h0M482.6 184.7h0M487.4 186.6h0M484.3 183.2h0M479.9 187.6h0M480.6 178.7h0M479.2 189.3h0M482.3 186.5h0M486.0 170.3h0M488.4 179.2h0M486.8 186.5h0M479.2 187.6h0M485.8 185.4h0M484.9 184.7h0M481.6 182.3h0M499.0 172.4h0M489.5 176.1h0M479.2 186.4h0M480.9 176.3h0M478.2 188.0h0M483.8 175.5h0M482.9 184.9h0M479.2 181.2h0M478.3 186.6h0M486.6 185.4h0M480.9 172.9h0M479.6 189.3h0M489.0 179.0h0M483.3 176.0h0M481.2 185.1h0M483.9 177.6h0M484.9 178.4h0M481.9 176.7h0M479.7 181.3h0M485.4 176.7h0M481.7 186.9h0M481.3 188.3h0M489.7 177.5h0M492.8 170.1h0M484.7 172.7h0M484.2 170.9h0M481.1 183.0h0M494.7 175.0h0M479.9 188.5h0M484.0 172.2h0M485.8 178.6h0M488.3 167.1h0M487.3 184.1h0M488.0 168.2h0M485.0 149.5h0M485.4 179.3h0M487.3 166.2h0M483.8 182.1h0M479.5 186.5h0M480.5 179.6h0M481.2 181.1h0M480.1 176.0h0M482.9 187.2h0M479.2 186.0h0M481.8 186.6h0M478.9 187.8h0M483.3 177.7h0M482.5 174.5h0M479.7 179.6h0M478.6 187.6h0M492.5 171.1h0M482.4 162.6h0M479.5 183.3h0M480.2 180.2h0M483.5 188.1h0M488.9 174.6h0M483.3 188.2h0M489.5 155.7h0M486.3 161.3h0M481.3 188.3h0M480.0 178.4h0M481.4 179.9h0M480.3 186.6h0M491.0 174.4h0M489.1 183.2h0M486.4 180.0h0M486.0 169.1h0M493.6 180.8h0M492.8 185.2h0M495.0 182.7h0M491.2 178.8h0M479.0 183.4h0M487.3 187.2h0M485.2 187.5h0M480.2 182.2h0M481.4 188.9h0M485.0 182.4h0M488.3 174.7h0M483.3 189.0h0M481.0 185.6h0M486.9 187.1h0M482.0 188.4h0M481.5 183.1h0M482.9 187.5h0M484.5 188.2h0M481.0 178.3h0M484.3 180.7h0M481.6 178.9h0M485.9 181.4h0M477.9 189.5h0M484.0 182.0h0M488.4 164.0h0M479.4 187.5h0M499.6 170.4h0M480.1 187.8h0M490.9 185.2h0M489.3 180.7h0M480.8 188.7h0M485.3 183.8h0M485.1 185.1h0M478.3 188.3h0M480.6 181.7h0M487.1 183.2h0M482.5 187.1h0M481.9 179.9h0M482.8 183.8h0M480.4 187.8h0M486.6 176.8h0M502.5 174.5h0M484.9 174.4h0M487.3 183.2h0M482.3 179.3h0M485.1 186.8h0M483.9 182.4h0M483.1 188.1h0M487.4 183.7h0M482.9 187.5h0M484.4 184.7h0M479.5 188.7h0M488.5 171.7h0M491.4 184.9h0M483.0 160.0h0M480.6 188.2h0M496.9 167.6h0M482.9 165.6h0M481.6 175.4h0M484.2 188.3h0M479.2 189.3h0M481.5 188.8h0M481.0 185.8h0M486.1 169.4h0M481.4 188.4h0M481.7 169.9h0M479.5 182.5h0M482.9 180.0h0M486.0 188.0h0M496.3 168.8h0M487.2 183.8h0M484.5 179.1h0M480.2 184.5h0M484.7 172.3h0M493.8 176.7h0M483.9 176.7h0M484.8 185.4h0M479.0 189.3h0M483.0 171.8h0M479.9 183.1h0M487.5 186.6h0M490.7 185.1h0M478.3 185.6h0M480.6 178.8h0M487.6 177.0h0M481.3 184.4h0M492.1 176.8h0M480.8 189.1h0M479.5 188.0h0M495.9 173.3h0M481.8 186.9h0M487.9 184.1h0M483.9 177.5h0M485.8 186.3h0M488.0 183.7h0M480.0 181.0h0M490.0 176.3h0M478.7 189.0h0M485.6 163.9h0M481.9 187.0h0M478.9 185.4h0M486.9 185.4h0M482.1 176.9h0M485.7 166.8h0M478.5 185.7h0M480.9 188.3h0M485.9 187.1h0M491.9 186.3h0M481.7 181.0h0M482.8 178.6h0M484.0 178.6h0M482.2 186.3h0M493.6 180.5h0M485.5 185.8h0M483.9 186.7h0M483.6 185.6h0M487.1 184.9h0M482.3 169.4h0M479.4 183.1h0M480.1 177.8h0M495.6 171.0h0M488.0 143.7h0M482.5 183.9h0M481.4 184.8h0M482.3 185.5h0M481.7 187.6h0M480.1 183.8h0M483.7 184.0h0M483.7 181.9h0M481.9 188.6h0M488.4 184.5h0M482.3 174.6h0M495.7 179.8h0M483.0 173.9h0M483.3 165.9h0M495.1 184.2h0M487.1 168.5h0M482.2 188.9h0M481.7 186.2h0M483.4 188.6h0M480.9 182.4h0M478.7 184.8h0M485.1 185.2h0M484.6 169.6h0M479.2 183.5h0M485.8 175.5h0M480.5 187.2h0M483.5 165.8h0M485.6 184.5h0M480.6 178.6h0M489.3 177.2h0M485.1 188.0h0M480.2 182.8h0M481.4 185.8h0M486.3 175.4h0M484.3 180.6h0M484.1 187.1h0M490.0 177.0h0M487.6 176.6h0M482.5 183.5h0M486.3 177.6h0M479.2 181.4h0M485.2 184.1h0M487.2 181.6h0M478.7 184.4h0M484.6 171.0h0M484.2 184.0h0M483.3 179.8h0M479.5 189.5h0M494.3 183.3h0M481.8 186.1h0M493.5 184.9h0M494.8 181.6h0M486.8 168.4h0M486.8 187.3h0M486.2 167.8h0M489.5 180.4h0M486.9 146.6h0M481.6 184.5h0M487.2 178.5h0M481.6 188.1h0M487.9 181.7h0M486.8 156.4h0M484.3 164.4h0M486.8 174.5h0M479.8 183.1h0M486.3 181.1h0M481.5 187.2h0M491.5 178.9h0M490.0 183.1h0M479.7 188.5h0M482.4 171.8h0M484.4 157.0h0M480.2 188.0h0M485.9 175.4h0M481.6 182.5h0M484.5 180.9h0M482.0 184.5h0M483.2 188.9h0M482.6 177.6h0M490.1 181.4h0M481.8 173.4h0M480.3 186.2h0M478.6 188.7h0M485.9 179.9h0M480.6 183.8h0M484.1 174.7h0M491.8 175.9h0M479.2 181.4h0M482.4 184.1h0M495.3 178.7h0M482.6 181.2h0M481.5 181.5h0M499.1 169.5h0M487.7 178.6h0M484.7 183.7h0M484.4 178.7h0M479.5 189.1h0M488.5 182.6h0M479.7 183.6h0M482.7 185.4h0M489.9 168.9h0M487.6 168.6h0M503.0 177.3h0M480.7 188.9h0M489.0 172.6h0M480.2 182.8h0M491.2 183.4h0M482.2 187.6h0M480.4 174.6h0M480.6 182.8h0M489.4 183.9h0M483.5 166.9h0M478.1 185.6h0M488.6 182.9h0M489.4 183.1h0M480.8 184.2h0M484.3 178.8h0M480.4 188.7h0M480.1 183.5h0M483.7 187.2h0M480.4 181.5h0M481.9 179.7h0M480.2 184.1h0M484.5 188.2h0M487.7 182.8h0M492.5 174.7h0M483.6 177.0h0M480.0 186.4h0M477.5 189.1h0M493.2 175.6h0M485.4 183.4h0M484.8 178.2h0M481.9 172.4h0M493.3 180.9h0M490.0 174.9h0M486.6 175.3h0M488.4 176.9h0M480.5 184.6h0M482.1 187.1h0M478.8 187.7h0M481.6 182.0h0M480.2 183.8h0M480.9 188.8h0M481.1 186.0h0M480.2 187.8h0M486.8 185.9h0M488.9 185.9h0M479.8 181.8h0M480.1 187.5h0M491.8 176.1h0M488.3 181.1h0M481.9 185.4h0M492.7 183.5h0M485.0 185.1h0M480.3 175.7h0M482.6 188.1h0M478.4 188.8h0M484.9 182.2h0M481.9 171.1h0M487.5 185.2h0M479.0 187.4h0M479.5 178.7h0M482.2 185.9h0M480.2 188.2h0M481.7 188.7h0M482.9 188.5h0M494.6 178.7h0M481.5 183.2h0M482.3 183.4h0M487.3 181.2h0M483.3 160.6h0M486.5 177.6h0M480.3 187.4h0M488.5 181.4h0M484.8 186.5h0M488.9 181.1h0M483.0 176.9h0M483.1 186.5h0M485.1 173.1h0M484.4 186.2h0M483.5 187.6h0M481.3 189.2h0M496.6 178.8h0M485.4 185.7h0M481.4 185.7h0M493.3 174.9h0M481.0 184.9h0M491.9 182.9h0M485.6 187.4h0M482.2 175.5h0M478.1 188.7h0M488.8 163.6h0M484.6 180.4h0M489.6 176.3h0M480.0 187.6h0M490.5 184.4h0M485.4 174.6h0M495.4 176.0h0M486.1 174.0h0M490.5 181.1h0M480.3 176.7h0M485.8 187.6h0M487.9 183.8h0M479.5 185.9h0M488.8 183.3h0M483.8 183.8h0M481.5 187.6h0M486.4 184.8h0M479.9 184.5h0M487.2 175.4h0M478.7 186.8h0M489.5 184.4h0M487.9 183.4h0M491.4 179.2h0M483.0 189.0h0M481.5 183.9h0M487.0 186.7h0M490.1 151.0h0M483.8 177.6h0M484.4 170.9h0M492.6 174.6h0M484.8 180.2h0M489.3 174.1h0M479.3 188.4h0M483.1 188.0h0M482.8 180.8h0M484.1 171.2h0M489.6 184.4h0M481.3 186.7h0M489.1 178.4h0M488.0 172.5h0M480.2 182.4h0M483.1 174.3h0M482.0 180.0h0M501.7 168.3h0M493.1 176.5h0M479.6 183.1h0M487.4 181.8h0M484.0 177.8h0M482.9 186.9h0M479.0 185.4h0M483.1 185.8h0M484.4 180.5h0M485.3 171.6h0M488.8 183.3h0M486.7 186.6h0M479.2 179.9h0M487.6 177.4h0M479.5 186.4h0M483.6 188.8h0M481.0 173.0h0M483.1 170.7h0M481.5 175.2h0M482.3 166.9h0M481.1 182.6h0M485.4 188.5h0M494.3 183.2h0M483.5 180.5h0M497.2 175.9h0M481.2 174.0h0M482.9 183.5h0M484.7 187.4h0M478.5 187.5h0M482.4 182.4h0M483.2 188.3h0M489.2 185.5h0M480.0 176.2h0M479.6 180.5h0M478.9 187.4h0M487.4 175.0h0M480.1 184.3h0M495.9 181.4h0M484.9 181.3h0M482.5 180.4h0M480.7 178.5h0M485.7 173.4h0M485.4 184.3h0M483.0 184.8h0M478.3 186.5h0M486.0 144.2h0M482.3 182.1h0M484.9 186.0h0M481.4 176.6h0M484.8 174.4h0M499.3 181.1h0M483.6 168.3h0M481.8 187.7h0M495.0 178.9h0M480.6 181.0h0M481.6 185.4h0M486.0 183.5h0M479.4 184.6h0M481.2 189.1h0M484.3 159.7h0M501.1 177.2h0M484.5 175.8h0M484.6 187.2h0M481.6 172.2h0M486.9 187.4h0M480.2 177.0h0M484.7 150.6h0M488.6 174.7h0M484.2 183.4h0M482.5 172.9h0M479.7 182.5h0M485.0 160.2h0M488.5 177.7h0M488.4 182.4h0M489.4 181.4h0M483.3 184.6h0M480.4 183.2h0M486.8 173.4h0M480.8 184.1h0M479.0 181.6h0M480.5 180.7h0M480.0 181.6h0M486.0 145.7h0M484.7 178.4h0M478.3 187.2h0M483.4 174.0h0M487.2 186.6h0M479.9 180.0h0M503.1 173.9h0M488.4 185.8h0M505.4 167.5h0M484.2 187.7h0M479.8 183.0h0M483.1 184.0h0M478.3 186.3h0M488.9 186.5h0M480.0 187.8h0M478.7 187.8h0M481.1 188.6h0M484.5 166.3h0M490.3 184.8h0M486.5 183.9h0M488.7 178.0h0M483.5 176.4h0M487.0 184.3h0M483.8 179.0h0M486.4 182.3h0M480.7 187.2h0M481.1 180.0h0M486.2 186.7h0M498.6 181.5h0M479.3 187.1h0M485.2 177.1h0M487.9 184.8h0M487.6 182.0h0M480.8 182.7h0M483.9 185.5h0M482.1 184.2h0M481.0 184.2h0M480.3 175.1h0M489.5 174.3h0M485.9 164.8h0M486.7 187.4h0M486.7 184.2h0M479.5 177.9h0M484.8 179.0h0M480.3 183.3h0M478.5 187.7h0M483.7 182.1h0M503.5 176.3h0M484.2 183.5h0M505.7 175.5h0M481.7 189.1h0M484.8 180.5h0M482.9 162.6h0M488.6 174.0h0M485.8 163.3h0M483.1 182.9h0M483.9 187.7h0M481.3 186.3h0M478.5 188.1h0M492.6 175.1h0M485.8 181.8h0M481.1 187.8h0M485.1 173.6h0M487.4 183.0h0M491.6 174.4h0M483.7 177.6h0M480.9 187.5h0M482.7 186.6h0M483.1 173.4h0M481.3 178.5h0M497.7 180.9h0M481.3 183.6h0M479.3 188.6h0M487.8 169.6h0M481.3 179.7h0M479.0 187.3h0M495.4 168.7h0M481.6 171.1h0M478.0 186.2h0M483.9 183.6h0M483.2 174.0h0M485.3 182.1h0M495.9 167.9h0M479.7 183.9h0M481.9 185.4h0M478.9 186.4h0M480.2 182.8h0M484.1 171.0h0M490.9 183.0h0M481.0 183.3h0M485.0 186.3h0M482.3 188.1h0M478.1 188.0h0M482.0 181.8h0M491.1 169.5h0M487.5 183.7h0M487.0 170.6h0M486.5 171.6h0M481.4 187.6h0M483.3 170.2h0M482.3 185.9h0M484.1 179.9h0M484.7 156.7h0M486.0 186.5h0M484.4 187.7h0M480.8 186.6h0M482.7 183.0h0M490.6 185.6h0M492.3 169.4h0M481.7 171.5h0M482.7 175.9h0M481.2 181.7h0M485.9 175.9h0M480.9 183.2h0M484.6 184.8h0M480.5 172.7h0M484.0 184.6h0M483.5 187.8h0M496.5 173.4h0M480.5 182.9h0M489.8 173.9h0M488.3 182.1h0M482.5 188.5h0M481.9 183.0h0M482.2 184.0h0M481.6 185.6h0M484.9 182.6h0M484.0 172.1h0M494.6 168.4h0M480.9 187.1h0M482.6 178.9h0M483.3 165.7h0M481.6 182.3h0M480.2 187.3h0M486.4 188.1h0M486.9 187.7h0M484.7 188.5h0M490.5 176.9h0M483.2 185.4h0M481.4 186.5h0M493.9 169.7h0M482.7 183.6h0M482.7 188.6h0M486.0 182.5h0M487.2 187.3h0M482.5 167.9h0M486.4 171.0h0M481.1 172.7h0M490.6 180.3h0M481.5 177.4h0M480.5 183.8h0M491.7 167.9h0M487.9 150.5h0M485.2 186.7h0M481.8 175.5h0M482.8 185.5h0M485.2 175.0h0M488.8 183.5h0M481.1 187.7h0M483.3 188.0h0M484.9 185.7h0M481.7 186.2h0M487.6 182.6h0M484.1 176.5h0M486.6 183.2h0M487.7 174.5h0M480.9 187.6h0M491.6 175.4h0M479.8 181.1h0M479.7 187.9h0M481.4 178.1h0M479.3 181.3h0M481.1 185.7h0M493.0 183.5h0M479.9 184.8h0M481.7 188.6h0M477.7 188.2h0M481.1 187.5h0M489.8 182.1h0M487.4 176.1h0M487.6 186.3h0M481.5 188.7h0M482.1 164.7h0M481.5 175.2h0M479.4 188.0h0M491.6 185.7h0M486.3 157.1h0M480.2 175.6h0M482.2 186.7h0M482.4 181.8h0M485.4 185.5h0M481.1 176.4h0M482.2 182.9h0M478.7 188.7h0M479.1 182.8h0M480.9 183.8h0M480.5 187.2h0M481.4 188.8h0M485.1 187.7h0M480.3 181.6h0M490.2 183.3h0M485.3 187.6h0M489.3 180.5h0M488.2 169.3h0M481.0 186.7h0M481.5 181.6h0M489.9 186.2h0M491.5 183.6h0M484.2 186.4h0M488.8 169.5h0M478.0 185.7h0M485.4 158.3h0M481.2 173.1h0M489.4 186.8h0M480.1 184.0h0M482.9 185.2h0M483.6 187.8h0M498.5 181.2h0M481.6 186.2h0M491.0 181.7h0M481.2 182.3h0M480.7 174.3h0M478.2 187.7h0M490.9 177.4h0M479.5 178.6h0M479.0 187.9h0M480.4 184.6h0M488.6 184.5h0M486.2 183.3h0M480.0 176.3h0M483.7 176.8h0M478.4 189.0h0M481.3 188.2h0M482.4 182.5h0M484.0 179.9h0M481.1 174.3h0M483.5 178.2h0M479.5 177.6h0M483.2 162.2h0M482.8 188.3h0M485.0 174.6h0M494.6 175.9h0M479.7 177.5h0M483.0 182.7h0M487.0 180.9h0M488.1 181.9h0M483.5 188.1h0M488.9 173.4h0M483.4 186.1h0M480.2 183.5h0M497.1 180.9h0M483.1 184.2h0M485.5 185.3h0M487.7 186.1h0M479.7 180.8h0M484.2 178.8h0M482.4 165.5h0M481.4 183.8h0M489.3 167.6h0M481.7 178.1h0M480.6 186.4h0M479.2 186.0h0M482.0 188.4h0M480.2 187.6h0M486.5 186.7h0M486.1 186.8h0M503.3 176.1h0M480.5 182.4h0M480.3 180.5h0M488.5 161.3h0M479.1 188.9h0M480.6 178.5h0M482.5 167.6h0M494.6 177.3h0M483.4 182.6h0M483.6 183.0h0M484.1 181.1h0M486.9 182.7h0M485.3 187.4h0M483.1 174.3h0M486.5 187.3h0M483.7 184.4h0M479.0 183.3h0M481.2 189.1h0M482.6 180.3h0M485.5 177.0h0M482.4 171.6h0M488.2 163.0h0M485.8 177.6h0M481.6 183.6h0M496.2 176.6h0M483.3 177.9h0M481.0 187.1h0M483.5 182.1h0M482.7 187.8h0M487.4 184.3h0M485.2 187.0h0M488.7 185.8h0M485.8 187.9h0M486.5 168.6h0M488.1 183.0h0M494.1 183.5h0M484.0 185.2h0M490.7 185.8h0M481.9 170.4h0M487.2 187.2h0M483.0 174.0h0M481.9 176.5h0M479.8 188.1h0M483.8 170.1h0M482.8 178.8h0M485.9 165.3h0M481.7 185.5h0M484.3 185.8h0M492.2 173.1h0M479.1 182.2h0M488.2 177.2h0M483.3 183.6h0M485.1 184.2h0M480.2 180.0h0M484.3 186.1h0M482.9 171.8h0M480.6 187.6h0M482.9 187.8h0M484.5 188.5h0M479.6 177.2h0M489.5 184.9h0M486.1 175.6h0M478.1 185.2h0M484.2 186.0h0M478.9 188.6h0M479.5 185.6h0M485.6 176.7h0M482.7 166.6h0M479.4 187.2h0M482.3 184.4h0M481.0 189.1h0M483.2 184.3h0M484.9 174.6h0M481.0 173.7h0M485.0 176.8h0M486.2 187.3h0M482.9 188.1h0M485.9 188.1h0M481.1 184.5h0M480.3 188.7h0M481.1 184.8h0M486.8 177.2h0M481.2 189.1h0M479.5 181.1h0M479.9 184.6h0M483.6 181.1h0M483.5 163.5h0M490.6 184.9h0M492.3 183.6h0M477.8 188.0h0M480.3 188.9h0M482.4 179.4h0M479.8 188.6h0M486.9 158.7h0M479.0 188.7h0M479.3 189.3h0M485.4 185.9h0M484.1 180.0h0M478.7 185.5h0M484.5 184.0h0M492.6 182.9h0M485.2 162.8h0M480.9 183.9h0M482.1 187.8h0M480.1 189.2h0M483.1 167.7h0M482.2 181.5h0M483.2 187.5h0M488.4 186.9h0M482.0 177.1h0M479.1 188.1h0M483.5 180.8h0M487.9 173.6h0M493.6 178.9h0M488.9 147.3h0M486.2 173.7h0M488.5 175.7h0M487.7 187.1h0M481.7 171.8h0M482.3 179.0h0M492.7 182.6h0M480.8 188.7h0M479.9 189.3h0M478.8 189.4h0M489.3 162.3h0M481.9 188.7h0M481.4 175.1h0M490.5 180.0h0M479.6 185.6h0M480.2 182.3h0M484.7 186.8h0M481.6 183.3h0M489.6 186.2h0M489.6 164.7h0M479.7 181.2h0M483.1 172.4h0M483.1 174.5h0M482.0 185.6h0M491.7 178.0h0M487.5 184.0h0M481.8 187.3h0M484.4 188.1h0M480.9 179.1h0M488.9 175.2h0M479.1 185.3h0M478.4 187.5h0M486.5 184.0h0M482.7 184.1h0M483.1 167.3h0M482.3 184.9h0M484.4 188.2h0M482.7 186.4h0M483.4 171.2h0M484.3 187.0h0M481.4 188.7h0M489.6 182.4h0M486.7 179.0h0M488.4 185.7h0M483.1 176.5h0M480.2 188.5h0M486.9 179.4h0M479.9 189.2h0M487.4 182.1h0M482.6 170.3h0M487.3 163.7h0M494.5 180.4h0M482.6 179.1h0M498.7 177.7h0M484.6 181.1h0M504.5 172.9h0M478.4 184.6h0M494.6 182.5h0M478.9 186.5h0M482.2 174.1h0M480.3 184.0h0M495.2 180.1h0M480.9 189.0h0M481.0 175.5h0M483.6 177.6h0M482.2 183.9h0M480.1 183.7h0M481.0 183.6h0M481.7 179.8h0M482.2 186.6h0M478.6 187.1h0M490.4 185.9h0M483.3 182.2h0M493.7 168.9h0M479.7 180.5h0M481.3 186.2h0M485.3 177.9h0M481.5 187.3h0M483.5 183.0h0M478.0 188.1h0M489.7 182.7h0M481.6 188.1h0M487.0 182.7h0M484.7 184.8h0M487.2 173.1h0M484.1 177.0h0M480.6 187.4h0M485.3 170.6h0M481.6 170.4h0M479.3 186.3h0M482.7 171.8h0M482.2 185.4h0M481.1 176.1h0M483.7 186.5h0M486.3 163.7h0M478.2 188.9h0M486.6 181.2h0M486.2 184.6h0M481.3 176.2h0M484.6 184.8h0M484.0 185.4h0M480.5 189.2h0M483.2 174.7h0M493.5 177.7h0M482.0 186.7h0M484.0 184.3h0M481.0 179.3h0M481.2 173.0h0M493.7 179.3h0M479.8 181.0h0M483.2 178.2h0M481.4 179.2h0M482.8 178.4h0M482.7 187.7h0M486.9 161.8h0M481.9 181.5h0M484.2 188.4h0M484.6 179.7h0M490.6 171.4h0M483.3 174.5h0M481.0 184.1h0M488.1 153.6h0M482.1 182.3h0M481.4 179.4h0M484.9 184.9h0M485.7 174.0h0M485.7 175.3h0M482.8 170.5h0M486.0 182.0h0M483.7 177.5h0M482.4 174.7h0M489.5 182.1h0M479.6 185.4h0M482.2 166.8h0M481.6 188.6h0M485.5 152.3h0M483.2 183.9h0M483.0 182.5h0M482.5 187.2h0M495.1 172.0h0M482.9 180.1h0M486.6 180.2h0M482.3 183.9h0M481.8 182.7h0M479.5 178.3h0M481.6 185.8h0M481.2 178.1h0M482.4 173.4h0M480.6 186.5h0M485.8 178.4h0M489.2 180.7h0M497.1 181.1h0M479.4 185.2h0M489.4 180.3h0M480.1 183.2h0M484.5 185.1h0M483.0 183.8h0M499.6 178.1h0M484.0 188.7h0M483.6 178.7h0M480.1 185.9h0M485.0 186.8h0M480.6 183.1h0M482.8 184.8h0M481.0 178.6h0M487.7 170.0h0M482.6 188.0h0M503.5 175.7h0M482.6 183.7h0M480.7 175.8h0M478.8 186.0h0M483.0 166.0h0M488.6 173.0h0M479.9 187.4h0M484.0 171.8h0M482.7 173.3h0M487.3 184.9h0M483.3 186.8h0M488.0 186.1h0M480.1 180.4h0M491.8 185.1h0M486.1 182.0h0M489.4 175.0h0M484.0 171.6h0M486.7 187.6h0M479.8 188.2h0M482.6 184.3h0M480.7 178.8h0M484.6 173.2h0M483.4 188.5h0M490.0 160.2h0M481.8 182.2h0M483.5 187.2h0M481.2 183.7h0M480.7 180.8h0M486.2 161.1h0M484.7 183.0h0M478.0 187.2h0M487.3 173.8h0M480.8 180.7h0M483.8 186.8h0M479.7 189.0h0M478.5 185.5h0M482.0 182.3h0M479.0 183.8h0M482.0 176.6h0M499.2 179.2h0M477.7 188.7h0M504.2 183.8h0M501.5 185.3h0M466.8 186.0h0M471.0 181.6h0M466.5 188.5h0M488.4 187.2h0M475.9 182.9h0M491.9 177.5h0M440.1 188.4h0M508.3 169.5h0M475.1 185.2h0M490.6 188.9h0M474.3 188.6h0M469.4 188.2h0M486.3 180.8h0M493.5 183.2h0M472.9 163.1h0M473.9 187.6h0M490.7 187.1h0M459.6 182.3h0M446.7 184.8h0M484.9 182.0h0M463.6 187.3h0M438.6 184.3h0M460.7 187.9h0M467.6 168.2h0M453.1 188.5h0M447.2 187.9h0M477.7 182.1h0M494.9 188.4h0M472.3 178.5h0M462.1 182.1h0M484.7 174.3h0M491.3 180.9h0M471.0 183.7h0M487.9 187.1h0M497.9 175.4h0M472.9 186.3h0M460.7 183.2h0M484.0 187.0h0M482.0 177.8h0M499.0 183.9h0M451.3 178.4h0M463.8 170.4h0M460.2 188.5h0M442.3 179.7h0M479.5 184.5h0M487.6 178.2h0M462.2 182.5h0M504.7 186.6h0M493.4 188.4h0M489.5 171.3h0M485.0 185.3h0M496.1 186.7h0M450.4 176.0h0M489.3 187.4h0M489.1 176.1h0M441.6 183.7h0M483.9 188.4h0" stroke="#bebebe" stroke-width="1.3" stroke-linecap="round" fill="none"/>
<path d="M456.3 165.7h0M455.2 154.0h0M460.0 148.1h0M459.6 144.7h0M459.1 164.6h0M452.4 157.1h0M463.7 160.9h0M453.3 147.9h0M459.0 157.9h0M458.2 159.9h0M440.5 165.8h0M448.3 164.2h0M450.5 162.6h0M457.3 151.0h0M456.8 163.0h0M456.5 161.8h0M448.6 157.5h0M453.0 160.9h0M452.7 156.7h0M461.4 137.9h0M456.9 162.4h0M454.6 156.6h0M458.6 162.5h0M445.9 157.0h0M458.4 164.0h0M459.3 164.9h0M456.0 153.8h0M460.0 151.7h0M443.8 164.5h0M463.1 165.1h0M461.8 165.8h0M452.6 162.9h0M457.5 165.3h0M454.2 145.3h0M442.3 165.9h0M455.5 145.8h0M444.0 163.6h0M453.4 161.3h0M459.5 126.5h0M458.4 148.4h0M458.0 152.1h0M458.4 156.1h0M461.8 165.5h0M460.4 161.1h0M447.7 151.6h0M462.3 164.2h0M456.0 159.5h0M462.1 164.1h0M457.9 153.8h0M457.8 127.0h0M455.7 160.0h0M461.0 153.8h0M459.9 162.1h0M463.0 156.8h0M456.4 164.8h0M460.4 148.1h0M458.7 153.9h0M463.8 147.1h0M457.2 158.1h0M447.7 147.1h0M453.8 155.8h0M456.0 157.8h0M456.4 146.0h0M462.1 166.4h0M457.6 166.4h0M459.3 158.4h0M452.6 156.2h0M451.4 140.5h0M454.3 156.4h0M444.0 158.9h0M462.6 147.1h0M449.3 153.5h0M463.5 156.4h0M447.4 127.1h0M444.1 156.2h0M447.6 152.5h0M456.7 154.5h0M457.0 165.9h0M449.0 165.2h0M459.2 165.0h0M446.7 158.9h0M458.2 152.8h0M457.4 141.3h0M453.4 166.9h0M458.5 160.5h0M459.5 127.0h0M457.0 149.7h0M455.5 161.8h0M456.9 165.6h0M449.6 159.3h0M459.2 155.2h0M444.5 142.7h0M448.9 149.0h0M458.8 155.0h0M456.7 158.1h0M459.2 157.9h0M461.3 165.8h0M462.1 163.8h0M462.2 149.5h0M452.5 150.9h0M454.3 157.8h0M447.2 165.7h0M446.7 157.7h0M454.0 141.1h0M454.8 149.4h0M446.0 151.2h0M463.4 161.2h0M450.8 163.3h0M460.4 154.8h0M444.1 143.0h0M461.4 159.9h0M457.1 153.4h0M459.6 142.1h0M460.1 163.3h0M458.0 160.4h0M452.8 166.0h0M447.2 164.1h0M461.4 166.7h0M460.9 159.6h0M457.9 146.0h0M453.4 153.6h0M442.3 156.8h0M454.9 153.7h0M455.4 165.6h0M453.9 154.5h0M456.1 162.7h0M450.9 162.5h0M458.7 159.8h0M456.2 163.9h0M442.5 157.9h0M457.7 157.5h0M457.5 161.1h0M450.2 153.1h0M459.6 154.9h0M455.9 166.7h0M447.8 159.0h0M458.6 165.3h0M459.8 149.5h0M450.4 150.9h0M460.2 165.6h0M451.0 141.1h0M456.6 147.0h0M456.5 165.1h0M442.9 138.7h0M457.0 161.6h0M458.6 165.0h0M457.6 152.9h0M462.2 165.8h0M462.7 158.4h0M459.3 158.7h0M459.5 152.8h0M451.5 156.6h0M462.1 154.9h0M460.4 166.9h0M458.1 160.5h0M453.1 159.8h0M456.6 156.7h0M447.9 161.7h0M458.8 133.5h0M461.1 161.0h0M460.6 155.1h0M458.9 150.7h0M460.5 155.9h0M455.4 164.5h0M460.9 161.2h0M446.6 156.0h0M449.7 163.1h0M458.7 151.3h0M447.0 156.6h0M461.0 156.7h0M460.3 165.6h0M462.2 159.9h0M449.7 161.6h0M459.8 151.6h0M450.7 160.6h0M460.4 161.1h0M460.8 148.2h0M456.8 164.3h0M445.2 162.9h0M452.1 165.0h0M458.1 151.7h0M462.8 164.1h0M446.2 157.5h0M456.4 149.9h0M462.1 165.5h0M455.9 155.8h0M452.6 160.9h0M462.7 147.2h0M463.3 155.4h0M454.6 151.4h0M461.6 141.2h0M454.2 148.5h0M461.8 149.7h0M450.8 154.7h0M460.4 156.5h0M453.4 153.4h0M456.8 160.6h0M460.9 161.9h0M442.1 163.2h0M454.2 158.4h0M451.7 158.0h0M451.4 164.8h0M461.1 166.0h0M458.3 157.2h0M450.4 156.8h0M454.6 165.1h0M460.5 161.3h0M450.1 160.0h0M462.1 142.6h0M461.6 136.3h0M455.2 162.7h0M457.7 154.3h0M456.8 149.0h0M452.6 165.3h0M458.0 161.3h0M461.5 155.1h0M452.8 161.1h0M457.3 160.7h0M458.5 166.5h0M460.7 162.7h0M451.0 164.6h0M446.4 160.3h0M448.4 162.9h0M450.5 160.5h0M458.2 165.2h0M462.7 155.4h0M452.7 154.6h0M462.5 149.4h0M461.7 155.5h0M447.8 160.8h0M459.6 152.7h0M459.5 164.0h0M458.6 149.9h0M456.6 129.0h0M460.4 162.4h0M459.2 153.8h0M464.0 158.3h0M454.3 151.0h0M458.8 165.5h0M457.1 156.3h0M457.6 153.7h0M444.9 153.5h0M463.0 165.6h0M453.4 141.8h0M458.3 158.9h0M457.3 141.0h0M453.5 155.6h0M462.6 163.4h0M460.6 163.7h0M457.7 159.6h0M450.3 166.9h0M455.0 155.7h0M460.4 161.5h0M447.4 151.9h0M455.7 161.1h0M457.1 166.0h0M457.4 164.0h0M459.0 159.5h0M459.6 161.5h0M443.8 164.2h0M460.1 163.5h0M459.5 159.0h0M459.3 165.8h0M455.7 138.1h0M458.3 160.0h0M461.6 145.4h0M453.8 158.0h0M459.6 149.1h0M461.8 155.1h0M455.6 146.3h0M463.1 146.7h0M457.5 160.8h0M447.0 164.0h0M453.0 159.7h0M448.1 164.8h0M457.7 157.9h0M461.0 163.5h0M456.2 150.8h0M458.0 159.5h0M454.1 160.7h0M461.4 162.2h0M447.9 150.7h0M459.4 127.7h0M459.8 139.4h0M460.9 135.9h0M441.5 129.5h0M447.6 127.6h0M455.3 156.7h0M453.7 137.8h0M446.8 145.8h0M452.9 139.3h0M420.2 114.5h0M459.8 145.2h0M446.1 158.8h0M448.2 158.1h0M456.7 130.5h0M462.9 153.2h0M460.4 146.3h0M438.9 142.0h0M454.9 143.3h0M455.3 147.6h0M442.2 112.9h0M455.1 135.6h0M442.4 153.0h0M464.2 156.0h0M440.8 154.3h0M433.3 126.9h0M450.7 128.7h0M455.7 134.5h0M440.4 146.2h0M456.8 135.2h0M447.1 145.0h0M449.7 158.1h0M463.4 142.1h0M447.1 152.6h0M449.2 152.1h0M458.8 158.3h0M450.8 149.2h0M460.3 157.1h0M455.1 157.5h0M441.2 153.0h0M446.5 157.3h0M444.2 141.0h0M447.1 153.3h0M441.8 145.9h0M447.2 118.2h0M459.7 142.6h0M462.6 151.1h0M449.1 138.2h0M442.1 147.9h0M448.7 148.2h0M464.0 144.7h0M447.8 148.9h0M452.9 152.4h0M455.7 151.5h0M455.0 141.4h0M460.2 153.0h0M462.3 121.0h0M445.7 142.1h0M459.8 139.8h0M455.9 142.1h0M449.5 109.0h0M459.7 128.1h0M462.6 160.7h0M461.8 160.4h0M457.8 158.4h0M449.9 155.1h0M460.1 147.2h0M457.7 152.4h0M449.8 138.8h0M451.6 122.5h0M447.5 151.9h0M455.5 116.1h0M457.6 145.1h0M457.9 139.9h0M457.6 132.2h0M443.7 139.8h0M450.1 149.2h0M458.0 161.2h0M447.1 123.1h0M437.8 155.1h0M456.8 131.2h0M447.8 137.4h0M459.2 150.2h0M455.6 130.7h0M443.7 152.8h0M459.3 158.7h0M445.0 140.8h0M448.0 150.5h0M458.2 157.4h0M441.0 157.4h0M452.3 159.6h0M455.8 121.0h0M431.3 140.4h0M444.3 113.2h0M453.3 158.8h0M440.6 152.8h0M449.7 147.1h0M461.5 147.1h0M460.5 159.9h0M439.8 150.4h0M456.3 153.6h0M421.5 158.9h0M445.0 156.2h0M451.7 159.7h0M453.3 152.8h0M457.7 149.7h0M460.7 154.6h0M455.3 144.6h0M461.4 115.3h0M451.1 146.9h0M444.5 132.5h0M458.6 160.3h0M464.3 140.1h0M454.2 126.8h0M457.0 159.9h0M437.7 114.3h0M460.9 159.1h0M458.9 126.5h0M459.2 152.5h0M451.8 144.7h0M448.1 103.3h0M461.0 126.7h0M459.1 140.6h0M445.2 156.1h0M457.7 156.9h0M449.3 154.4h0M456.7 149.9h0M452.4 147.3h0M450.0 145.0h0M459.4 157.0h0M447.5 156.8h0M411.4 7.6h0M331.4 50.6h0M401.8 72.4h0M409.0 98.0h0M413.6 103.0h0M403.6 105.0h0M394.6 116.0h0M405.4 116.0h0M397.6 126.0h0M412.0 112.0h0M422.6 124.0h0M425.0 132.0h0M429.0 136.0h0M430.0 110.0h0M428.2 110.0h0M436.0 114.0h0M440.0 120.0h0M446.0 118.0h0M418.0 140.0h0M425.0 150.0h0M433.0 160.0h0M436.0 152.0h0M440.0 133.0h0M447.0 128.0h0M452.0 126.0h0" stroke="#5ba8ea" stroke-width="1.3" stroke-linecap="round" fill="none"/>
<path d="M500.0 165.3h0M506.7 152.4h0M494.6 163.3h0M495.2 167.2h0M498.3 159.6h0M494.4 158.6h0M493.6 124.2h0M495.6 150.8h0M499.3 156.1h0M500.8 160.3h0M495.3 164.1h0M493.1 151.9h0M499.9 163.4h0M493.6 159.5h0M495.2 146.2h0M496.4 149.1h0M503.0 154.1h0M493.3 156.5h0M495.1 163.3h0M501.7 161.4h0M498.6 167.0h0M506.0 166.3h0M492.8 159.0h0M493.0 163.4h0M494.3 157.6h0M497.6 147.1h0M505.7 164.2h0M502.7 158.6h0M499.8 166.5h0M494.2 133.7h0M497.7 157.1h0M498.0 165.3h0M497.9 156.7h0M496.7 151.8h0M503.3 166.8h0M499.7 162.8h0M505.3 163.5h0M498.7 148.8h0M493.2 161.0h0M497.2 158.3h0M505.5 167.2h0M509.0 160.6h0M491.4 142.5h0M495.3 131.6h0M502.1 154.2h0M494.7 162.8h0M492.4 160.4h0M495.8 145.4h0M496.0 166.0h0M494.8 158.8h0M496.5 118.8h0M495.5 155.2h0M493.3 145.3h0M496.4 149.5h0M502.0 156.6h0M502.9 158.7h0M501.9 152.9h0M497.2 159.9h0M496.6 155.8h0M494.2 157.3h0M503.7 156.6h0M495.6 165.8h0M498.5 158.0h0M491.9 158.3h0M493.1 162.5h0M494.1 159.8h0M498.9 136.7h0M499.2 161.5h0M494.9 144.8h0M504.2 147.2h0M497.2 158.4h0M494.4 153.8h0M497.8 159.9h0M494.5 160.2h0M498.2 163.2h0M491.8 163.5h0M496.9 159.4h0M513.0 152.3h0M501.8 150.6h0M503.0 164.8h0M493.8 151.4h0M501.2 153.5h0M494.7 149.8h0M499.7 164.9h0M508.3 159.8h0M493.3 157.5h0M494.2 154.2h0M494.5 160.9h0M502.1 165.3h0M495.0 166.8h0M493.0 156.4h0M501.6 163.0h0M498.8 159.3h0M497.4 146.0h0M499.7 159.9h0M493.8 145.3h0M494.6 156.6h0M492.1 150.0h0M501.1 164.0h0M495.8 158.4h0M495.2 138.1h0M495.8 156.1h0M491.9 165.2h0M506.2 161.4h0M491.7 155.9h0M500.5 133.1h0M505.3 159.7h0M496.7 149.7h0M491.9 154.4h0M501.0 158.2h0M495.4 163.9h0M492.3 166.2h0M500.6 164.9h0M492.8 161.6h0M494.5 164.0h0M501.2 160.4h0M491.3 148.7h0M498.7 151.7h0M493.0 163.6h0M496.3 166.1h0M495.1 166.5h0M493.5 161.9h0M497.9 165.5h0M494.7 160.7h0M499.8 161.5h0M495.2 163.9h0M497.6 154.9h0M497.3 144.8h0M495.8 160.5h0M493.9 166.4h0M501.0 165.1h0M492.4 160.0h0M499.8 162.4h0M501.3 160.4h0M491.9 156.0h0M495.6 164.8h0M493.3 165.6h0M498.5 163.7h0M493.3 153.9h0M495.4 141.2h0M492.0 163.9h0M494.5 121.2h0M494.8 158.9h0M500.1 142.6h0M495.6 161.8h0M493.4 149.7h0M494.2 165.4h0M491.6 166.5h0M510.0 143.7h0M499.9 156.6h0M491.8 146.9h0M500.3 166.9h0M501.1 151.2h0M493.5 137.7h0M504.4 162.0h0M493.1 158.0h0M491.5 163.7h0M505.8 163.0h0M504.7 156.4h0M502.7 150.8h0M492.6 159.4h0M498.1 164.7h0M493.1 161.1h0M492.2 158.4h0M499.7 152.8h0M491.7 147.1h0M499.9 159.9h0M492.2 160.4h0M494.5 138.8h0M492.4 144.2h0M494.8 149.2h0M493.6 154.3h0M500.6 152.6h0M499.4 153.9h0M502.5 134.8h0M493.1 153.4h0M506.9 157.8h0M499.0 158.2h0M500.7 162.5h0M500.3 164.7h0M498.2 126.5h0M494.7 138.1h0M510.4 156.3h0M495.2 153.2h0M495.3 166.0h0M501.7 166.1h0M506.2 161.7h0M501.6 156.3h0M494.9 153.7h0M499.5 166.2h0M510.8 163.5h0M502.5 163.9h0M503.5 158.8h0M509.1 164.9h0M492.9 163.3h0M498.9 165.5h0M504.5 151.8h0M494.6 158.1h0M493.8 163.9h0M493.4 148.3h0M492.0 162.0h0M495.2 155.0h0M499.7 151.0h0M492.0 139.2h0M498.5 166.1h0M505.9 150.6h0M498.9 159.5h0M498.5 166.0h0M495.1 161.1h0M505.7 166.2h0M492.8 152.4h0M500.6 157.9h0M494.6 157.4h0M498.1 161.6h0M497.5 161.3h0M497.0 158.4h0M494.7 164.0h0M494.5 156.2h0M502.1 146.8h0M499.2 149.9h0M494.7 150.7h0M498.0 166.0h0M503.2 161.9h0M498.5 160.5h0M512.3 145.8h0M498.0 156.9h0M495.7 165.8h0M493.5 160.3h0M497.8 120.5h0M494.9 147.3h0M496.8 165.4h0M493.8 161.4h0M493.7 161.9h0M493.1 122.3h0M491.7 161.3h0M502.2 156.9h0M506.4 166.7h0M492.8 160.9h0M501.9 164.8h0M500.0 162.1h0M491.7 166.5h0M494.1 156.4h0M497.1 165.9h0M498.3 159.6h0M510.7 166.5h0M491.4 162.5h0M494.5 153.1h0M500.3 164.2h0M495.3 152.6h0M495.2 166.1h0M494.8 156.3h0M493.4 162.8h0M492.5 160.9h0M495.0 164.8h0M497.7 157.9h0M503.6 159.5h0M496.7 163.1h0M492.1 148.7h0M494.6 156.8h0M496.4 161.6h0M496.1 165.8h0M499.0 162.5h0M502.5 155.3h0M496.8 165.3h0M493.7 160.1h0M498.5 135.7h0M500.7 161.1h0M493.3 137.9h0M498.0 160.2h0M495.8 162.4h0M498.3 151.3h0M500.8 161.2h0M503.6 161.9h0M495.0 162.0h0M501.8 148.8h0M498.8 145.0h0M492.5 157.2h0M500.9 166.8h0M493.4 152.1h0M501.0 166.7h0M493.8 164.9h0M495.1 140.6h0M498.6 163.0h0M493.0 131.4h0M493.7 163.7h0M493.6 149.5h0M496.8 133.0h0M496.9 145.5h0M497.3 164.0h0M493.7 157.4h0M496.5 162.3h0M491.2 131.1h0M495.4 150.5h0M499.2 149.3h0M492.6 162.3h0M492.1 158.0h0M503.5 156.9h0M510.9 157.2h0M499.0 154.5h0M510.1 163.4h0M491.5 151.1h0M495.0 164.3h0M496.1 158.8h0M493.9 119.9h0M496.7 163.9h0M505.2 162.3h0M493.4 160.3h0M493.3 162.7h0M498.4 164.4h0M498.4 160.0h0M494.4 163.7h0M494.8 158.5h0M492.8 165.7h0M493.2 163.7h0M496.5 164.6h0M501.9 160.6h0M498.1 155.4h0M498.8 158.4h0M494.1 165.8h0M492.1 167.1h0M493.1 161.8h0M493.9 142.5h0M491.5 148.3h0M494.8 156.0h0M503.3 155.1h0M496.4 158.9h0M497.9 164.5h0M492.8 156.1h0M496.5 163.6h0M491.6 163.1h0M510.4 134.6h0M501.3 163.6h0M496.0 132.5h0M491.7 165.4h0M501.5 166.5h0M494.7 161.1h0M501.1 162.1h0M499.1 159.2h0M499.6 162.9h0M492.3 150.1h0M497.2 156.3h0M497.1 154.1h0M494.7 153.9h0M495.0 163.1h0M492.6 165.1h0M493.4 163.4h0M498.8 157.0h0M496.1 160.6h0M498.8 153.6h0M501.9 136.9h0M504.6 153.1h0M494.9 149.8h0M497.5 128.7h0M497.9 148.5h0M491.3 160.7h0M493.6 164.4h0M501.1 145.7h0M495.3 157.7h0M496.4 166.7h0M492.6 163.1h0M501.8 165.4h0M498.7 154.6h0M496.9 166.6h0M495.3 159.5h0M498.3 153.5h0M494.7 139.5h0M499.6 155.3h0M493.7 151.6h0M495.0 158.8h0M492.3 153.9h0M499.0 158.6h0M502.3 159.4h0M507.6 156.4h0M493.0 154.2h0M491.8 160.3h0M502.4 162.6h0M493.6 155.3h0M496.8 162.2h0M491.8 160.3h0M498.8 158.5h0M495.4 130.6h0M498.8 158.2h0M493.3 159.8h0M503.8 162.8h0M497.9 154.2h0M497.8 162.4h0M501.9 164.7h0M495.7 139.0h0M495.2 157.2h0M495.5 156.2h0M495.0 160.8h0M502.7 152.6h0M499.3 161.6h0M492.7 162.2h0M493.1 163.6h0M493.1 156.4h0M529.7 132.0h0M514.9 148.3h0M509.9 117.6h0M492.0 114.4h0M493.1 140.7h0M496.7 139.7h0M496.3 143.6h0M516.2 129.2h0M517.2 139.4h0M512.5 130.2h0M492.0 145.2h0M500.3 144.7h0M497.3 122.1h0M492.9 139.4h0M507.9 124.5h0M501.5 127.2h0M494.9 145.4h0M491.5 132.4h0M492.2 135.0h0M497.3 135.9h0M500.7 111.3h0M498.9 130.8h0M508.0 123.1h0M494.4 143.4h0M493.5 116.8h0M504.4 126.4h0M514.8 106.5h0M506.4 116.5h0M492.2 139.8h0M493.4 134.1h0M501.7 129.6h0M501.9 146.1h0M510.7 114.9h0M502.8 135.8h0M494.0 147.4h0M500.5 117.5h0M501.9 143.1h0M497.8 136.7h0M494.4 146.2h0M495.7 131.2h0M504.5 128.0h0M492.9 137.4h0M493.3 123.0h0M500.5 138.7h0M492.2 133.4h0M517.7 147.5h0M503.3 116.4h0M507.5 138.1h0M509.4 140.4h0M506.1 138.1h0M502.4 146.2h0M494.8 128.3h0M506.8 142.5h0M494.4 126.0h0M503.9 144.4h0M495.5 135.7h0M509.7 145.2h0M493.0 148.9h0M520.5 138.0h0M509.4 127.1h0M506.0 115.6h0M504.4 98.8h0M500.3 136.1h0M511.4 133.0h0M505.7 119.4h0M494.5 123.2h0M495.6 112.3h0M501.6 136.1h0M509.8 129.9h0M492.8 137.7h0M516.9 128.7h0M506.0 142.3h0M502.2 139.5h0M493.3 138.1h0M501.1 139.5h0M500.7 125.9h0M499.0 140.5h0M519.9 127.9h0M492.3 121.7h0M498.1 139.8h0M491.6 149.4h0M507.5 120.6h0M498.2 142.3h0M503.8 148.5h0M498.8 134.2h0M504.2 135.2h0M495.0 131.5h0M494.9 138.3h0M500.8 138.3h0M501.6 148.7h0M510.7 123.6h0M494.1 125.0h0M494.9 127.1h0M494.5 128.6h0M505.9 132.0h0M506.4 144.2h0M499.4 118.1h0M497.3 123.5h0M495.1 136.5h0M500.1 143.5h0M495.0 132.2h0M514.0 114.0h0M492.6 107.6h0M517.5 139.4h0M496.8 141.9h0M508.5 138.1h0M498.1 112.9h0M506.5 125.2h0M506.6 137.3h0M576.2 42.6h0M560.6 81.0h0M578.4 101.0h0M554.6 151.0h0M540.0 81.0h0M527.0 85.0h0M516.0 94.0h0M513.0 96.0h0M503.0 98.0h0M506.0 94.0h0M514.0 104.0h0M520.0 110.0h0M505.0 107.0h0M498.0 115.0h0M510.0 125.0h0M518.0 128.0h0M524.0 140.0h0M530.0 156.0h0M522.0 161.0h0M515.0 158.0h0M536.0 163.0h0M508.0 152.0h0M528.0 146.0h0" stroke="#d50000" stroke-width="1.3" stroke-linecap="round" fill="none"/>
<path d="M306.5,0V200.1H648" stroke="#7f7f7f" stroke-width="1.1" fill="none"/>
<text x="305.6" y="191.2" font-size="10.4" text-anchor="end" fill="#444">0</text>
<text x="305.6" y="124.6" font-size="10.4" text-anchor="end" fill="#444">4</text>
<text x="305.6" y="57.6" font-size="10.4" text-anchor="end" fill="#444">8</text>
<text x="377.7" y="208.2" font-size="10.4" text-anchor="middle" fill="#444">−2</text>
<text x="479.1" y="208.2" font-size="10.4" text-anchor="middle" fill="#444">0</text>
<text x="582.4" y="208.2" font-size="10.4" text-anchor="middle" fill="#444">2</text>
<text x="474.2" y="218.5" font-size="9.4" text-anchor="middle" fill="#1a1a1a">log2 Fold−Change</text>
<text x="295" y="97.5" font-size="9.4" text-anchor="middle" fill="#1a1a1a" transform="rotate(-90 295 97.5)">−log10 adjusted P−value</text>
<text x="374.9" y="96.3" font-size="9.1" text-anchor="start" fill="#1a1a1a">AGPS</text>
<text x="434.9" y="112.7" font-size="9.1" text-anchor="start" fill="#1a1a1a">HSPB1</text>
<text x="412.1" y="122.3" font-size="9.1" text-anchor="start" fill="#1a1a1a">VDAC1</text>
<text x="433.5" y="129.9" font-size="9.1" text-anchor="start" fill="#1a1a1a">GNPAT</text>
<text x="438.1" y="139.3" font-size="9.1" text-anchor="start" fill="#1a1a1a">ACSL4</text>
<text x="412.1" y="147.3" font-size="9.1" text-anchor="start" fill="#1a1a1a">MT1X</text>
<text x="418.5" y="159.9" font-size="9.1" text-anchor="start" fill="#1a1a1a">SCD</text>
<text x="567.1" y="74.9" font-size="9.1" text-anchor="start" fill="#1a1a1a">FAR1</text>
<text x="496.5" y="112.3" font-size="9.1" text-anchor="start" fill="#1a1a1a">GSS</text>
<text x="521.9" y="114.1" font-size="9.1" text-anchor="start" fill="#1a1a1a">SPR</text>
<text x="506.5" y="122.7" font-size="9.1" text-anchor="start" fill="#1a1a1a">CAT</text>
<text x="513.1" y="129.9" font-size="9.1" text-anchor="start" fill="#1a1a1a">TXNRD2</text>
<text x="506.5" y="139.7" font-size="9.1" text-anchor="start" fill="#1a1a1a">ACOX1</text>
<text x="505.5" y="147.7" font-size="9.1" text-anchor="start" fill="#1a1a1a">GSTM2</text>
<text x="527.5" y="156.3" font-size="9.1" text-anchor="start" fill="#1a1a1a">SOD1</text>
<line x1="399.5" y1="97" x2="404" y2="103" stroke="#333" stroke-width="0.5" stroke-dasharray="1,0.7"/>
<line x1="436.5" y1="146" x2="443" y2="155" stroke="#333" stroke-width="0.5" stroke-dasharray="1,0.7"/>
<line x1="437" y1="158" x2="444" y2="165" stroke="#333" stroke-width="0.5" stroke-dasharray="1,0.7"/>
<line x1="442" y1="121" x2="448" y2="124" stroke="#333" stroke-width="0.5" stroke-dasharray="1,0.7"/>
<line x1="566" y1="74" x2="561.5" y2="80" stroke="#333" stroke-width="0.5" stroke-dasharray="1,0.7"/>
<line x1="499" y1="112.5" x2="494" y2="120" stroke="#333" stroke-width="0.5" stroke-dasharray="1,0.7"/>
<line x1="527" y1="156" x2="522" y2="162" stroke="#333" stroke-width="0.5" stroke-dasharray="1,0.7"/>
<line x1="505" y1="122" x2="499" y2="126" stroke="#333" stroke-width="0.5" stroke-dasharray="1,0.7"/>
<line x1="511" y1="128" x2="503" y2="131" stroke="#333" stroke-width="0.5" stroke-dasharray="1,0.7"/>
<line x1="505" y1="138" x2="500" y2="141" stroke="#333" stroke-width="0.5" stroke-dasharray="1,0.7"/>
<line x1="504" y1="146" x2="499" y2="149" stroke="#333" stroke-width="0.5" stroke-dasharray="1,0.7"/>
<line x1="520" y1="113" x2="517" y2="116" stroke="#333" stroke-width="0.5" stroke-dasharray="1,0.7"/>
<line x1="437" y1="134" x2="440" y2="131" stroke="#333" stroke-width="0.5" stroke-dasharray="1,0.7"/>
<line x1="463" y1="112" x2="466" y2="111" stroke="#333" stroke-width="0.5" stroke-dasharray="1,0.7"/>
<path d="M255.6,263V376.4H396" stroke="#1a1a1a" stroke-width="1.3" fill="none" />
<line x1="251.2" y1="376.4" x2="255.6" y2="376.4" stroke="#1a1a1a" stroke-width="1.2" />
<text x="249.6" y="379.8" font-size="9.5" text-anchor="end" fill="#1a1a1a">0.00000</text>
<line x1="251.2" y1="338.6" x2="255.6" y2="338.6" stroke="#1a1a1a" stroke-width="1.2" />
<text x="249.6" y="342" font-size="9.5" text-anchor="end" fill="#1a1a1a">0.00005</text>
<line x1="251.2" y1="300.8" x2="255.6" y2="300.8" stroke="#1a1a1a" stroke-width="1.2" />
<text x="249.6" y="304.2" font-size="9.5" text-anchor="end" fill="#1a1a1a">0.00010</text>
<line x1="251.2" y1="263" x2="255.6" y2="263" stroke="#1a1a1a" stroke-width="1.2" />
<text x="249.6" y="266.4" font-size="9.5" text-anchor="end" fill="#1a1a1a">0.00015</text>
<line x1="265.6" y1="376.4" x2="265.6" y2="380.2" stroke="#1a1a1a" stroke-width="1.2" />
<text x="265.6" y="390.8" font-size="9.5" text-anchor="middle" fill="#1a1a1a">3</text>
<line x1="289.5" y1="376.4" x2="289.5" y2="380.2" stroke="#1a1a1a" stroke-width="1.2" />
<text x="289.5" y="390.8" font-size="9.5" text-anchor="middle" fill="#1a1a1a">4</text>
<line x1="313.4" y1="376.4" x2="313.4" y2="380.2" stroke="#1a1a1a" stroke-width="1.2" />
<text x="313.4" y="390.8" font-size="9.5" text-anchor="middle" fill="#1a1a1a">5</text>
<line x1="337.3" y1="376.4" x2="337.3" y2="380.2" stroke="#1a1a1a" stroke-width="1.2" />
<text x="337.3" y="390.8" font-size="9.5" text-anchor="middle" fill="#1a1a1a">6</text>
<line x1="361.2" y1="376.4" x2="361.2" y2="380.2" stroke="#1a1a1a" stroke-width="1.2" />
<text x="361.2" y="390.8" font-size="9.5" text-anchor="middle" fill="#1a1a1a">7</text>
<line x1="385.1" y1="376.4" x2="385.1" y2="380.2" stroke="#1a1a1a" stroke-width="1.2" />
<text x="385.1" y="390.8" font-size="9.5" text-anchor="middle" fill="#1a1a1a">8</text>
<text x="317" y="403.4" font-size="11" text-anchor="middle" fill="#1a1a1a">Fatty acid double bonds</text>
<text x="199.3" y="325.8" font-size="11" text-anchor="middle" fill="#1a1a1a" transform="rotate(-90 199.3 325.8)">Lipid Concentration</text>
<text x="212.3" y="326.2" font-size="11" text-anchor="middle" fill="#1a1a1a" transform="rotate(-90 212.3 326.2)">(nmol/million cells)</text>
<rect x="258.5" y="354.5" width="4.8" height="21.9" fill="#808080" stroke="#111" stroke-width="1.0"/>
<rect x="267.6" y="342" width="4.8" height="34.4" fill="#8080ff" stroke="#0000ff" stroke-width="1.2"/>
<rect x="282.4" y="348.8" width="4.8" height="27.6" fill="#808080" stroke="#111" stroke-width="1.0"/>
<rect x="291.5" y="309" width="4.8" height="67.4" fill="#8080ff" stroke="#0000ff" stroke-width="1.2"/>
<rect x="306.3" y="362.5" width="4.8" height="13.9" fill="#808080" stroke="#111" stroke-width="1.0"/>
<rect x="315.4" y="339.8" width="4.8" height="36.6" fill="#8080ff" stroke="#0000ff" stroke-width="1.2"/>
<rect x="330.2" y="374.3" width="4.8" height="2.1" fill="#808080" stroke="#111" stroke-width="1.0"/>
<rect x="339.3" y="372" width="4.8" height="4.4" fill="#8080ff" stroke="#0000ff" stroke-width="1.2"/>
<rect x="354.1" y="376.1" width="4.8" height="0.3" fill="#808080" stroke="#111" stroke-width="1.0"/>
<rect x="363.2" y="376.2" width="4.8" height="0.3" fill="#8080ff" stroke="#0000ff" stroke-width="1.2"/>
<rect x="378" y="376.1" width="4.8" height="0.3" fill="#808080" stroke="#111" stroke-width="1.0"/>
<rect x="387.1" y="376.2" width="4.8" height="0.3" fill="#8080ff" stroke="#0000ff" stroke-width="1.2"/>
<path d="M260.9,351V357M259.3,351H262.5M259.3,357H262.5" stroke="#000" stroke-width="0.8" fill="none" />
<circle cx="259.5" cy="350" r="1.2" fill="#000"/>
<circle cx="262.3" cy="349.5" r="1.2" fill="#000"/>
<circle cx="261" cy="351.5" r="1.2" fill="#000"/>
<circle cx="260.9" cy="362.6" r="1.2" fill="#000"/>
<path d="M270.2,337V345M268.6,337H271.8M268.6,345H271.8" stroke="#0000ff" stroke-width="0.8" fill="none" />
<circle cx="270.2" cy="334" r="1.2" fill="#0000ff"/>
<circle cx="270.2" cy="337.5" r="1.2" fill="#0000ff"/>
<circle cx="270.2" cy="351" r="1.2" fill="#0000ff"/>
<circle cx="269.5" cy="342" r="1.2" fill="#0000ff"/>
<path d="M285.1,345V351M283.5,345H286.7M283.5,351H286.7" stroke="#000" stroke-width="0.8" fill="none" />
<circle cx="283.5" cy="343.5" r="1.2" fill="#000"/>
<circle cx="286.8" cy="343" r="1.2" fill="#000"/>
<circle cx="285.1" cy="346" r="1.2" fill="#000"/>
<circle cx="285.1" cy="355.4" r="1.2" fill="#000"/>
<path d="M294.2,302.2V314M292.6,302.2H295.8M292.6,314H295.8" stroke="#0000ff" stroke-width="0.8" fill="none" />
<circle cx="292.8" cy="305.5" r="1.2" fill="#0000ff"/>
<circle cx="295.5" cy="305.5" r="1.2" fill="#0000ff"/>
<circle cx="294.2" cy="325" r="1.2" fill="#0000ff"/>
<circle cx="294.2" cy="303.8" r="1.2" fill="#0000ff"/>
<path d="M309.2,359.5V364M307.6,359.5H310.8M307.6,364H310.8" stroke="#000" stroke-width="0.8" fill="none" />
<circle cx="309.2" cy="357.5" r="1.2" fill="#000"/>
<circle cx="309.2" cy="360.8" r="1.2" fill="#000"/>
<circle cx="308" cy="362" r="1.2" fill="#000"/>
<path d="M318.2,335V343M316.6,335H319.8M316.6,343H319.8" stroke="#0000ff" stroke-width="0.8" fill="none" />
<circle cx="318.2" cy="330.2" r="1.2" fill="#0000ff"/>
<circle cx="318.2" cy="348.6" r="1.2" fill="#0000ff"/>
<circle cx="317.5" cy="339.5" r="1.2" fill="#0000ff"/>
<circle cx="332.5" cy="373.3" r="1.1" fill="#000"/>
<circle cx="334.5" cy="373.3" r="1.1" fill="#000"/>
<circle cx="336" cy="373.5" r="1.1" fill="#000"/>
<circle cx="341" cy="371" r="1.1" fill="#0000ff"/>
<circle cx="343" cy="370.8" r="1.1" fill="#0000ff"/>
<circle cx="344.5" cy="371.2" r="1.1" fill="#0000ff"/>
<circle cx="355.7" cy="375.8" r="0.9" fill="#000"/>
<circle cx="357.4" cy="375.8" r="0.9" fill="#000"/>
<circle cx="359" cy="375.8" r="0.9" fill="#000"/>
<circle cx="364.4" cy="375.8" r="0.9" fill="#0000ff"/>
<circle cx="366" cy="375.8" r="0.9" fill="#0000ff"/>
<circle cx="367.6" cy="375.8" r="0.9" fill="#0000ff"/>
<circle cx="379.6" cy="375.8" r="0.9" fill="#000"/>
<circle cx="381.3" cy="375.8" r="0.9" fill="#000"/>
<circle cx="382.9" cy="375.8" r="0.9" fill="#000"/>
<circle cx="388.3" cy="375.8" r="0.9" fill="#0000ff"/>
<circle cx="389.9" cy="375.8" r="0.9" fill="#0000ff"/>
<circle cx="391.5" cy="375.8" r="0.9" fill="#0000ff"/>
<path d="M260.6,343V263.4H270.6V269.6" stroke="#333" stroke-width="0.8" fill="none" />
<text x="265.6" y="263.9" font-size="14" text-anchor="middle" fill="#1a1a1a">**</text>
<path d="M285.6,338V292H294.2V295" stroke="#333" stroke-width="0.8" fill="none" />
<text x="289.9" y="292.3" font-size="14" text-anchor="middle" fill="#1a1a1a">***</text>
<path d="M308.6,269.6V263.4H317.6V269.6" stroke="#333" stroke-width="0.8" fill="none" />
<text x="313.1" y="263.9" font-size="14" text-anchor="middle" fill="#1a1a1a">***</text>
<path d="M333.6,368V292H341.8V368" stroke="#333" stroke-width="0.8" fill="none" />
<text x="337.7" y="292.3" font-size="14" text-anchor="middle" fill="#1a1a1a">***</text>
<path d="M356.6,269.6V263.4H365.6V269.6" stroke="#333" stroke-width="0.8" fill="none" />
<text x="361.1" y="263.9" font-size="14" text-anchor="middle" fill="#1a1a1a">*</text>
<path d="M381,369.6V292H390.4V369.6" stroke="#333" stroke-width="0.8" fill="none" />
<text x="385.7" y="292.3" font-size="14" text-anchor="middle" fill="#1a1a1a">***</text>
<circle cx="401.2" cy="263.8" r="1.3" fill="#000"/>
<circle cx="401.2" cy="279.4" r="1.3" fill="#0000ff"/>
<text x="411.5" y="267.6" font-size="11" text-anchor="start" fill="#1a1a1a">697</text>
<text x="430.2" y="263.9" font-size="7" text-anchor="start" fill="#1a1a1a" font-style="italic">WT</text>
<text x="411.5" y="283.2" font-size="11" text-anchor="start" fill="#1a1a1a">697</text>
<text x="430.2" y="279.5" font-size="7" text-anchor="start" fill="#1a1a1a" font-style="italic">KI</text>
<path d="M519.6,263.4V376.4H634.4" stroke="#1a1a1a" stroke-width="1.3" fill="none" />
<line x1="515.2" y1="376.4" x2="519.6" y2="376.4" stroke="#1a1a1a" stroke-width="1.2" />
<text x="513.8" y="379.8" font-size="9.5" text-anchor="end" fill="#1a1a1a">0.00000</text>
<line x1="515.2" y1="338.73" x2="519.6" y2="338.73" stroke="#1a1a1a" stroke-width="1.2" />
<text x="513.8" y="342.13" font-size="9.5" text-anchor="end" fill="#1a1a1a">0.00002</text>
<line x1="515.2" y1="301.06" x2="519.6" y2="301.06" stroke="#1a1a1a" stroke-width="1.2" />
<text x="513.8" y="304.46" font-size="9.5" text-anchor="end" fill="#1a1a1a">0.00004</text>
<line x1="515.2" y1="263.39" x2="519.6" y2="263.39" stroke="#1a1a1a" stroke-width="1.2" />
<text x="513.8" y="266.79" font-size="9.5" text-anchor="end" fill="#1a1a1a">0.00006</text>
<line x1="531.6" y1="376.4" x2="531.6" y2="380.2" stroke="#1a1a1a" stroke-width="1.2" />
<text x="531.6" y="390.3" font-size="9.5" text-anchor="middle" fill="#1a1a1a">PC-O</text>
<line x1="561.6" y1="376.4" x2="561.6" y2="380.2" stroke="#1a1a1a" stroke-width="1.2" />
<text x="561.6" y="390.3" font-size="9.5" text-anchor="middle" fill="#1a1a1a">PC-P</text>
<line x1="591.6" y1="376.4" x2="591.6" y2="380.2" stroke="#1a1a1a" stroke-width="1.2" />
<text x="591.6" y="390.3" font-size="9.5" text-anchor="middle" fill="#1a1a1a">PE-O</text>
<line x1="620.8" y1="376.4" x2="620.8" y2="380.2" stroke="#1a1a1a" stroke-width="1.2" />
<text x="620.8" y="390.3" font-size="9.5" text-anchor="middle" fill="#1a1a1a">PE-P</text>
<text x="574.6" y="403.5" font-size="11" text-anchor="middle" fill="#1a1a1a">Ether-linked lipid class</text>
<text x="462.8" y="325.8" font-size="11" text-anchor="middle" fill="#1a1a1a" transform="rotate(-90 462.8 325.8)">Lipid Concentration</text>
<text x="476" y="326.2" font-size="11" text-anchor="middle" fill="#1a1a1a" transform="rotate(-90 476 326.2)">(nmol/million cells)</text>
<rect x="523.5" y="316.7" width="6" height="59.7" fill="#808080" stroke="#111" stroke-width="1.0"/>
<rect x="534.2" y="371.2" width="5.8" height="5.2" fill="#8080ff" stroke="#0000ff" stroke-width="1.2"/>
<rect x="553.5" y="352.5" width="6" height="23.9" fill="#808080" stroke="#111" stroke-width="1.0"/>
<rect x="564.2" y="366.4" width="5.8" height="10" fill="#8080ff" stroke="#0000ff" stroke-width="1.2"/>
<rect x="583.5" y="374.1" width="6" height="2.3" fill="#808080" stroke="#111" stroke-width="1.0"/>
<rect x="594.2" y="376" width="5.8" height="0.4" fill="#8080ff" stroke="#0000ff" stroke-width="1.2"/>
<rect x="612.7" y="294.5" width="6" height="81.9" fill="#808080" stroke="#111" stroke-width="1.0"/>
<rect x="623.4" y="369.6" width="5.8" height="6.8" fill="#8080ff" stroke="#0000ff" stroke-width="1.2"/>
<path d="M526.4,310.6V322.4M524.6,310.6H528.2M524.6,322.4H528.2" stroke="#000" stroke-width="0.8" fill="none" />
<circle cx="524.5" cy="308.2" r="1.5" fill="#000"/>
<circle cx="528.4" cy="307.6" r="1.5" fill="#000"/>
<circle cx="526.4" cy="314.6" r="1.5" fill="#000"/>
<circle cx="526.4" cy="334" r="1.5" fill="#000"/>
<circle cx="535.5" cy="370.2" r="1.4" fill="#0000ff"/>
<circle cx="537.5" cy="369.8" r="1.4" fill="#0000ff"/>
<circle cx="539.5" cy="370.5" r="1.4" fill="#0000ff"/>
<path d="M556.3,349.3V355.5M554.5,349.3H558.1M554.5,355.5H558.1" stroke="#000" stroke-width="0.8" fill="none" />
<circle cx="556.2" cy="343.7" r="1.5" fill="#000"/>
<circle cx="554.5" cy="356" r="1.5" fill="#000"/>
<circle cx="557.5" cy="355" r="1.5" fill="#000"/>
<circle cx="556" cy="357.5" r="1.5" fill="#000"/>
<circle cx="565.5" cy="365.6" r="1.4" fill="#0000ff"/>
<circle cx="567.5" cy="365" r="1.4" fill="#0000ff"/>
<circle cx="569.5" cy="365.8" r="1.4" fill="#0000ff"/>
<circle cx="584.5" cy="374.5" r="1.5" fill="#000"/>
<circle cx="586.5" cy="374.2" r="1.5" fill="#000"/>
<circle cx="588.5" cy="374.6" r="1.5" fill="#000"/>
<circle cx="595" cy="375.2" r="1.3" fill="#0000ff"/>
<circle cx="597" cy="375" r="1.3" fill="#0000ff"/>
<circle cx="599" cy="375.3" r="1.3" fill="#0000ff"/>
<path d="M615.4,282.6V305M613.6,282.6H617.2M613.6,305H617.2" stroke="#000" stroke-width="0.8" fill="none" />
<circle cx="615.4" cy="272" r="1.5" fill="#000"/>
<circle cx="615.4" cy="287" r="1.5" fill="#000"/>
<circle cx="615.4" cy="294.5" r="1.5" fill="#000"/>
<circle cx="615.4" cy="324" r="1.5" fill="#000"/>
<circle cx="624.5" cy="368" r="1.5" fill="#0000ff"/>
<circle cx="626.8" cy="370" r="1.5" fill="#0000ff"/>
<circle cx="629" cy="370.2" r="1.5" fill="#0000ff"/>
<circle cx="625" cy="372.5" r="1.5" fill="#0000ff"/>
<path d="M526,308V293.4H537.4V368" stroke="#333" stroke-width="0.8" fill="none" />
<text x="531.7" y="293.7" font-size="14" text-anchor="middle" fill="#1a1a1a">***</text>
<path d="M556,272V266H567.4V272" stroke="#333" stroke-width="0.8" fill="none" />
<text x="561.7" y="266.3" font-size="14" text-anchor="middle" fill="#1a1a1a">**</text>
<path d="M586,368V292H597.4V368" stroke="#333" stroke-width="0.8" fill="none" />
<text x="591.7" y="292.3" font-size="14" text-anchor="middle" fill="#1a1a1a">**</text>
<path d="M615.4,270V265.4H626.4V362" stroke="#333" stroke-width="0.8" fill="none" />
<text x="620.9" y="265.9" font-size="14" text-anchor="middle" fill="#1a1a1a">***</text>
<circle cx="642.6" cy="265" r="1.3" fill="#000"/>
<circle cx="642.6" cy="281.4" r="1.3" fill="#0000ff"/>
<text x="654.8" y="268.8" font-size="11" text-anchor="start" fill="#1a1a1a">697</text>
<text x="673.5" y="265.1" font-size="7" text-anchor="start" fill="#1a1a1a" font-style="italic">WT</text>
<text x="654.8" y="285.2" font-size="11" text-anchor="start" fill="#1a1a1a">697</text>
<text x="673.5" y="281.5" font-size="7" text-anchor="start" fill="#1a1a1a" font-style="italic">KI</text>
<polygon points="66.5,522.8 72.5,526.2 78.5,529.5 84.5,532.7 90.5,535.8 96.5,538.7 102.5,541.3 108.5,543.8 114.5,546.1 120.5,548.2 126.5,550.3 132.5,552.2 138.5,554.2 144.5,556.1 150.5,558.0 156.5,559.9 162.5,561.8 168.5,563.6 174.5,565.5 180.5,567.3 186.5,569.2 192.5,571.0 198.5,572.9 204.5,574.7 210.5,576.6 216.5,578.4 222.5,580.2 228.5,582.1 234.5,583.9 240.5,585.7 240.5,625.5 234.5,622.0 228.5,618.6 222.5,615.1 216.5,611.6 210.5,608.1 204.5,604.6 198.5,601.1 192.5,597.6 186.5,594.1 180.5,590.7 174.5,587.2 168.5,583.7 162.5,580.3 156.5,576.8 150.5,573.4 144.5,569.9 138.5,566.5 132.5,563.1 126.5,559.8 120.5,556.5 114.5,553.3 108.5,550.3 102.5,547.4 96.5,544.7 90.5,542.3 84.5,540.1 78.5,538.0 72.5,535.9 66.5,533.9" fill="#999999"/>
<path d="M92.4 453.9h0M72.7 469.3h0M88.5 470.6h0M75.8 478.0h0M82.1 480.0h0M90.5 480.2h0M75.1 493.1h0M103.8 496.9h0M98.5 499.5h0M72.7 502.6h0M74.9 502.7h0M80.1 503.0h0M81.9 503.0h0M82.3 500.8h0M83.6 499.9h0M85.8 500.1h0M99.0 504.7h0M86.7 505.9h0M89.3 505.9h0M79.7 507.1h0M77.1 507.8h0M75.8 508.5h0M97.5 507.8h0M90.2 506.6h0M98.1 511.1h0M78.4 512.4h0M83.2 511.6h0M85.8 514.2h0M90.2 514.6h0M90.2 516.8h0M110.6 513.5h0M67.0 518.1h0M79.3 516.4h0M79.3 518.6h0M99.6 518.8h0M106.9 516.8h0M75.3 521.2h0M77.1 521.2h0M79.3 522.1h0M78.4 520.3h0M84.1 521.2h0M86.3 522.1h0M88.9 522.5h0M91.1 521.2h0M93.3 520.8h0M116.5 526.0h0M85.0 526.0h0M88.0 526.9h0M86.3 528.6h0M93.7 528.2h0M99.0 526.9h0M99.0 528.2h0M104.7 530.2h0M75.8 529.7h0M80.1 530.4h0M78.8 529.1h0M81.9 528.6h0M81.0 531.7h0M88.9 532.2h0M116.1 530.8h0M116.5 532.6h0M74.0 533.5h0M86.3 533.9h0M84.1 535.2h0M85.8 536.1h0M105.1 535.2h0M93.7 536.1h0M71.4 539.6h0M82.3 537.8h0M84.5 537.4h0M79.3 541.6h0M89.8 537.8h0M112.6 540.9h0M83.6 543.1h0M86.3 545.7h0M99.0 541.3h0M101.2 542.2h0M95.9 541.8h0M106.0 543.5h0M111.7 545.3h0M103.8 546.2h0M102.9 547.9h0M101.6 548.8h0M70.5 548.2h0M80.1 548.4h0M81.9 549.7h0M78.8 550.5h0M79.7 552.3h0M76.6 552.7h0M78.4 553.6h0M92.4 547.9h0M93.3 548.8h0M87.2 549.7h0M85.4 551.4h0M98.5 550.5h0M99.4 552.7h0M67.9 552.3h0M89.8 553.2h0M105.5 552.3h0M115.2 552.7h0M118.7 549.7h0M95.0 554.9h0M95.9 555.8h0M81.0 556.2h0M82.8 557.6h0M73.1 557.1h0M74.9 558.4h0M68.8 559.3h0M71.4 561.1h0M82.3 559.7h0M83.2 561.9h0M88.5 560.2h0M92.8 559.3h0M97.2 558.4h0M109.9 558.0h0M113.9 558.4h0M116.1 560.2h0M101.2 564.6h0M103.4 563.9h0M105.5 563.2h0M107.7 562.8h0M84.1 563.7h0M88.9 570.1h0M92.4 570.5h0M95.0 568.8h0M96.8 566.6h0M99.9 565.3h0M116.1 566.6h0M113.4 568.8h0M115.2 570.9h0M107.3 571.8h0M106.9 574.0h0M112.1 575.3h0M79.7 574.7h0M92.4 574.9h0M92.0 578.0h0M93.3 578.8h0M95.5 578.4h0M90.7 580.6h0M83.2 580.1h0M84.1 578.8h0M74.0 580.3h0M99.0 580.8h0M105.1 578.8h0M108.0 583.6h0M95.5 590.2h0M97.2 588.9h0M121.3 538.3h0M131.5 536.7h0M167.6 529.9h0M122.2 546.9h0M120.3 549.6h0M144.3 547.8h0M120.3 553.3h0M135.0 554.0h0M123.8 560.8h0M115.9 561.2h0M129.0 564.1h0M143.5 561.6h0M144.8 563.4h0M143.5 565.1h0M172.4 562.5h0M140.8 569.7h0M122.0 572.3h0M174.1 571.3h0M171.9 577.8h0M120.7 578.3h0M124.6 578.3h0M135.8 577.8h0M130.3 580.5h0M132.5 582.7h0M132.5 584.4h0M137.9 580.9h0M157.0 582.8h0M155.3 591.2h0M126.4 597.6h0M173.6 479.0h0M210.0 582.4h0M240.4 591.6h0M176.0 576.0h0" stroke="#000" stroke-width="2.9" stroke-linecap="round" fill="none"/>
<line x1="66.5" y1="528.38" x2="240.5" y2="605.64" stroke="#000" stroke-width="1.3" />
<path d="M58.4,445V633.6H249" stroke="#8c8c8c" stroke-width="1" fill="none"/>
<line x1="56" y1="625.2" x2="58.4" y2="625.2" stroke="#8c8c8c" stroke-width="0.8" />
<text x="55.4" y="629.1" font-size="11" text-anchor="end" fill="#333">0</text>
<line x1="56" y1="582.9" x2="58.4" y2="582.9" stroke="#8c8c8c" stroke-width="0.8" />
<text x="55.4" y="586.8" font-size="11" text-anchor="end" fill="#333">2</text>
<line x1="56" y1="540.6" x2="58.4" y2="540.6" stroke="#8c8c8c" stroke-width="0.8" />
<text x="55.4" y="544.5" font-size="11" text-anchor="end" fill="#333">4</text>
<line x1="56" y1="498.3" x2="58.4" y2="498.3" stroke="#8c8c8c" stroke-width="0.8" />
<text x="55.4" y="502.2" font-size="11" text-anchor="end" fill="#333">6</text>
<line x1="56" y1="456" x2="58.4" y2="456" stroke="#8c8c8c" stroke-width="0.8" />
<text x="55.4" y="459.9" font-size="11" text-anchor="end" fill="#333">8</text>
<line x1="101.6" y1="633.6" x2="101.6" y2="636" stroke="#8c8c8c" stroke-width="0.8" />
<text x="101.6" y="646" font-size="10.5" text-anchor="middle" fill="#333">50</text>
<line x1="146" y1="633.6" x2="146" y2="636" stroke="#8c8c8c" stroke-width="0.8" />
<text x="146" y="646" font-size="10.5" text-anchor="middle" fill="#333">100</text>
<line x1="190.4" y1="633.6" x2="190.4" y2="636" stroke="#8c8c8c" stroke-width="0.8" />
<text x="190.4" y="646" font-size="10.5" text-anchor="middle" fill="#333">150</text>
<line x1="235" y1="633.6" x2="235" y2="636" stroke="#8c8c8c" stroke-width="0.8" />
<text x="235" y="646" font-size="10.5" text-anchor="middle" fill="#333">200</text>
<text x="157" y="657.4" font-size="11" text-anchor="middle" fill="#1a1a1a">CREBBP mRNA expression levels</text>
<text x="28.2" y="542.5" font-size="11" text-anchor="middle" fill="#1a1a1a" transform="rotate(-90 28.2 542.5)">Ferroptosis avg exp</text>
<text x="41.3" y="537" font-size="11" text-anchor="middle" fill="#1a1a1a" transform="rotate(-90 41.3 537)">mRNA expression levels</text>
<text x="155.4" y="454" font-size="9.3" text-anchor="start" fill="#1a1a1a">R= -0.42, p= 6.6e<tspan font-size="6" dy="-3.6">−10</tspan></text>
<path d="M484,448.6V686M297.4,648.4H670.4" stroke="#c8c8c8" stroke-width="0.8" stroke-dasharray="2.6,2.6" fill="none"/>
<path d="M331.0,559.6L396.2,596.4M375.2,566.6L396.2,595.4M331.0,580.5L400.3,605.1M384.5,586.5L395.0,592.9M358.0,600.2L401.0,606.0M391.5,606.3L404.4,611.0M324.0,617.4L407.9,615.7M364.0,620.3L408.5,616.5M324.0,637.8L412.0,624.0M361.0,638.4L414.0,626.5M405.0,631.3L415.0,627.2M387.0,643.5L417.4,630.7M320.0,656.8L419.5,634.0M355.0,658.2L421.0,635.5M408.0,650.0L422.0,637.7M330.0,676.2L420.3,636.0M372.0,676.2L422.6,638.3M394.0,672.0L422.6,638.3M420.9,661.0L432.0,649.4M438.4,672.7L433.7,649.4M438.4,633.6L428.5,638.9M434.9,616.7L426.7,638.3M456.6,593.6L415.0,620.8M421.9,596.4L411.4,615.0M407.9,576.5L398.5,591.1M397.6,556.0L393.9,582.4M543.0,659.0L534.5,648.5M564.5,640.0L552.0,628.0M568.0,620.0L564.4,609.0" stroke="#ff0000" stroke-width="0.75" fill="none"/>
<path d="M434.90,649.23 L436.16,650.48 L437.41,651.68 L438.67,652.86 L439.92,654.00 L441.17,655.10 L442.43,656.18 L443.68,657.22 L444.94,658.23 L446.19,659.21 L447.45,660.16 L448.70,661.07 L449.96,661.96 L451.21,662.82 L452.47,663.65 L453.72,664.45 L454.98,665.22 L456.23,665.96 L457.49,666.68 L458.74,667.37 L460.00,668.03 L461.25,668.66 L462.51,669.27 L463.76,669.85 L465.02,670.41 L466.27,670.94 L467.53,671.45 L468.78,671.93 L470.04,672.39 L471.29,672.82 L472.55,673.24 L473.80,673.63 L475.06,673.99 L476.31,674.34 L477.56,674.66 L478.82,674.96 L480.07,675.24 L481.33,675.51 L482.58,675.75 L483.84,675.97 L485.09,675.81 L486.35,675.57 L487.60,675.31 L488.86,675.04 L490.11,674.74 L491.37,674.42 L492.62,674.08 L493.88,673.72 L495.13,673.34 L496.39,672.93 L497.64,672.50 L498.90,672.05 L500.15,671.58 L501.41,671.08 L502.66,670.55 L503.92,670.00 L505.17,669.42 L506.43,668.82 L507.68,668.19 L508.94,667.54 L510.19,666.86 L511.45,666.15 L512.70,665.41 L513.95,664.65 L515.21,663.86 L516.46,663.04 L517.72,662.19 L518.97,661.30 L520.23,660.39 L521.48,659.45 L522.74,658.48 L523.99,657.48 L525.25,656.45 L526.50,655.38 L527.76,654.28 L529.01,653.15 L530.27,651.99 L531.52,650.79 L532.78,649.56 L534.03,648.29" stroke="#bebebe" stroke-width="3.2" fill="none" stroke-linecap="butt"/>
<path d="M393.26,583.67 L394.11,585.60 L394.96,587.51 L395.81,589.38 L396.66,591.22 L397.51,593.03 L398.36,594.82 L399.21,596.57 L400.06,598.29 L400.91,599.99 L401.76,601.66 L402.61,603.30 L403.46,604.92 L404.31,606.51 L405.16,608.07 L406.01,609.61 L406.86,611.13 L407.71,612.62 L408.56,614.08 L409.41,615.53 L410.26,616.94 L411.11,618.34 L411.96,619.71 L412.81,621.06 L413.66,622.39 L414.51,623.70 L415.36,624.99 L416.21,626.25 L417.06,627.49 L417.91,628.72 L418.76,629.92 L419.61,631.10 L420.46,632.27 L421.31,633.41 L422.15,634.53 L423.00,635.64 L423.85,636.72 L424.70,637.79 L425.55,638.84 L426.40,639.87 L427.25,640.89 L428.10,641.88 L428.95,642.86 L429.80,643.82 L430.65,644.77 L431.50,645.69 L432.35,646.60 L433.20,647.50 L434.05,648.37 L434.90,649.23" stroke="#ff0000" stroke-width="3.6" fill="none" stroke-linecap="round"/>
<path d="M387.84,570.52 L388.18,571.38 L388.52,572.24 L388.85,573.09 L389.19,573.94 L389.53,574.78 L389.87,575.61 L390.21,576.44" stroke="#ff0000" stroke-width="3.0" fill="none" stroke-linecap="round"/>
<path d="M534.03,648.29 L534.89,647.40 L535.74,646.50 L536.60,645.59 L537.45,644.65 L538.31,643.70 L539.16,642.73 L540.02,641.74 L540.87,640.74 L541.73,639.72 L542.58,638.68 L543.44,637.62 L544.29,636.54 L545.15,635.44 L546.00,634.33 L546.86,633.19 L547.71,632.04 L548.57,630.87 L549.42,629.67 L550.28,628.46 L551.13,627.22 L551.99,625.97 L552.84,624.69 L553.70,623.39 L554.55,622.07 L555.41,620.73 L556.26,619.36 L557.11,617.98 L557.97,616.57 L558.82,615.13 L559.68,613.67 L560.53,612.19 L561.39,610.69 L562.24,609.16 L563.10,607.60 L563.95,606.02 L564.81,604.41 L565.66,602.77 L566.52,601.11 L567.37,599.42 L568.23,597.71 L569.08,595.96 L569.94,594.19 L570.79,592.38 L571.65,590.55 L572.50,588.69 L573.36,586.79 L574.21,584.86 L575.07,582.90 L575.92,580.91" stroke="#ff0000" stroke-width="3.6" fill="none" stroke-linecap="round"/>
<circle cx="610.8" cy="459.23" r="1.8" fill="#ff0000"/>
<circle cx="606.4" cy="480.6" r="1.8" fill="#ff0000"/>
<circle cx="604.6" cy="488.66" r="1.8" fill="#ff0000"/>
<circle cx="600.4" cy="506.12" r="1.8" fill="#ff0000"/>
<circle cx="599.6" cy="509.25" r="1.8" fill="#ff0000"/>
<circle cx="598" cy="515.34" r="1.8" fill="#ff0000"/>
<circle cx="597.2" cy="518.3" r="1.8" fill="#ff0000"/>
<circle cx="595.4" cy="524.76" r="1.8" fill="#ff0000"/>
<circle cx="592.4" cy="534.98" r="1.8" fill="#ff0000"/>
<circle cx="590.2" cy="542.06" r="1.8" fill="#ff0000"/>
<circle cx="588" cy="548.81" r="1.8" fill="#ff0000"/>
<circle cx="586" cy="554.69" r="1.8" fill="#ff0000"/>
<circle cx="585" cy="557.53" r="1.8" fill="#ff0000"/>
<circle cx="583.6" cy="561.42" r="1.8" fill="#ff0000"/>
<circle cx="582.5" cy="564.4" r="1.8" fill="#ff0000"/>
<circle cx="581" cy="568.36" r="1.8" fill="#ff0000"/>
<circle cx="580" cy="570.93" r="1.8" fill="#ff0000"/>
<circle cx="578.4" cy="574.95" r="1.8" fill="#ff0000"/>
<path d="M297.4,448.6V686.2H670.4" stroke="#222" stroke-width="1.1" fill="none" />
<line x1="294.6" y1="676" x2="297.4" y2="676" stroke="#333" stroke-width="0.8" />
<text x="292.6" y="679.4" font-size="9.5" text-anchor="end" fill="#4d4d4d">0</text>
<line x1="294.6" y1="617.47" x2="297.4" y2="617.47" stroke="#333" stroke-width="0.8" />
<text x="292.6" y="620.87" font-size="9.5" text-anchor="end" fill="#4d4d4d">10</text>
<line x1="294.6" y1="558.94" x2="297.4" y2="558.94" stroke="#333" stroke-width="0.8" />
<text x="292.6" y="562.34" font-size="9.5" text-anchor="end" fill="#4d4d4d">20</text>
<line x1="294.6" y1="500.41" x2="297.4" y2="500.41" stroke="#333" stroke-width="0.8" />
<text x="292.6" y="503.81" font-size="9.5" text-anchor="end" fill="#4d4d4d">30</text>
<line x1="314.4" y1="686.2" x2="314.4" y2="689" stroke="#333" stroke-width="0.8" />
<text x="314.4" y="697.2" font-size="9.5" text-anchor="middle" fill="#4d4d4d">−1.0</text>
<line x1="399.2" y1="686.2" x2="399.2" y2="689" stroke="#333" stroke-width="0.8" />
<text x="399.2" y="697.2" font-size="9.5" text-anchor="middle" fill="#4d4d4d">−0.5</text>
<line x1="484" y1="686.2" x2="484" y2="689" stroke="#333" stroke-width="0.8" />
<text x="484" y="697.2" font-size="9.5" text-anchor="middle" fill="#4d4d4d">0.0</text>
<line x1="568.8" y1="686.2" x2="568.8" y2="689" stroke="#333" stroke-width="0.8" />
<text x="568.8" y="697.2" font-size="9.5" text-anchor="middle" fill="#4d4d4d">0.5</text>
<line x1="653.6" y1="686.2" x2="653.6" y2="689" stroke="#333" stroke-width="0.8" />
<text x="653.6" y="697.2" font-size="9.5" text-anchor="middle" fill="#4d4d4d">1.0</text>
<text x="477.6" y="714.2" font-size="11" text-anchor="middle" fill="#1a1a1a">Pearson Correlation Coefficient</text>
<text x="279" y="563" font-size="11.5" text-anchor="middle" fill="#1a1a1a" transform="rotate(-90 279 563)">−log10 p−value</text>
<text x="306.6" y="560.9" font-size="7.7" text-anchor="start" fill="#ff0000">PEX10</text>
<text x="344" y="566.5" font-size="7.7" text-anchor="start" fill="#ff0000">TXNRD2</text>
<text x="305.2" y="581.9" font-size="7.7" text-anchor="start" fill="#ff0000">VDAC3</text>
<text x="359" y="586.5" font-size="7.7" text-anchor="start" fill="#ff0000">PRDX3</text>
<text x="337.6" y="601.9" font-size="7.7" text-anchor="start" fill="#ff0000">PEX7</text>
<text x="375" y="607.3" font-size="7.7" text-anchor="start" fill="#ff0000">GSS</text>
<text x="304.2" y="618.9" font-size="7.7" text-anchor="start" fill="#ff0000">PEX3</text>
<text x="337.6" y="621.9" font-size="7.7" text-anchor="start" fill="#ff0000">GLRX2</text>
<text x="304.2" y="639.5" font-size="7.7" text-anchor="start" fill="#ff0000">FAR2</text>
<text x="334" y="640.1" font-size="7.7" text-anchor="start" fill="#ff0000">HMOX2</text>
<text x="381.2" y="633.1" font-size="7.7" text-anchor="start" fill="#ff0000">PEBP1</text>
<text x="358.2" y="646.9" font-size="7.7" text-anchor="start" fill="#ff0000">DHODH</text>
<text x="304.2" y="658.5" font-size="7.7" text-anchor="start" fill="#ff0000">TXN</text>
<text x="334" y="659.9" font-size="7.7" text-anchor="start" fill="#ff0000">SOD1</text>
<text x="393.6" y="653.6" font-size="7.7" text-anchor="start" fill="#ff0000">CAT</text>
<text x="304.2" y="677.9" font-size="7.7" text-anchor="start" fill="#ff0000">PRDX4</text>
<text x="346.2" y="677.9" font-size="7.7" text-anchor="start" fill="#ff0000">PRDX1</text>
<text x="385.4" y="677.9" font-size="7.7" text-anchor="start" fill="#ff0000">GSR</text>
<text x="408.2" y="665.9" font-size="7.7" text-anchor="start" fill="#ff0000">FADS2</text>
<text x="428.6" y="677.9" font-size="7.7" text-anchor="start" fill="#ff0000">GPX4</text>
<text x="438.6" y="635.9" font-size="7.7" text-anchor="start" fill="#ff0000">GNPAT</text>
<text x="422.8" y="615.7" font-size="7.7" text-anchor="start" fill="#ff0000">PRDX6</text>
<text x="456.2" y="595.1" font-size="7.7" text-anchor="start" fill="#ff0000">GLRX</text>
<text x="410.6" y="595.1" font-size="7.7" text-anchor="start" fill="#ff0000">PEX16</text>
<text x="399" y="575.1" font-size="7.7" text-anchor="start" fill="#ff0000">GPX1</text>
<text x="388.2" y="554.1" font-size="7.7" text-anchor="start" fill="#ff0000">TXN2</text>
<text x="537.6" y="664.5" font-size="7.7" text-anchor="start" fill="#ff0000">SBNO2</text>
<text x="555.2" y="644.7" font-size="7.7" text-anchor="start" fill="#ff0000">ACSL3</text>
<text x="568.2" y="623.7" font-size="7.7" text-anchor="start" fill="#ff0000">TXNRD1</text>
</svg></body></html>
